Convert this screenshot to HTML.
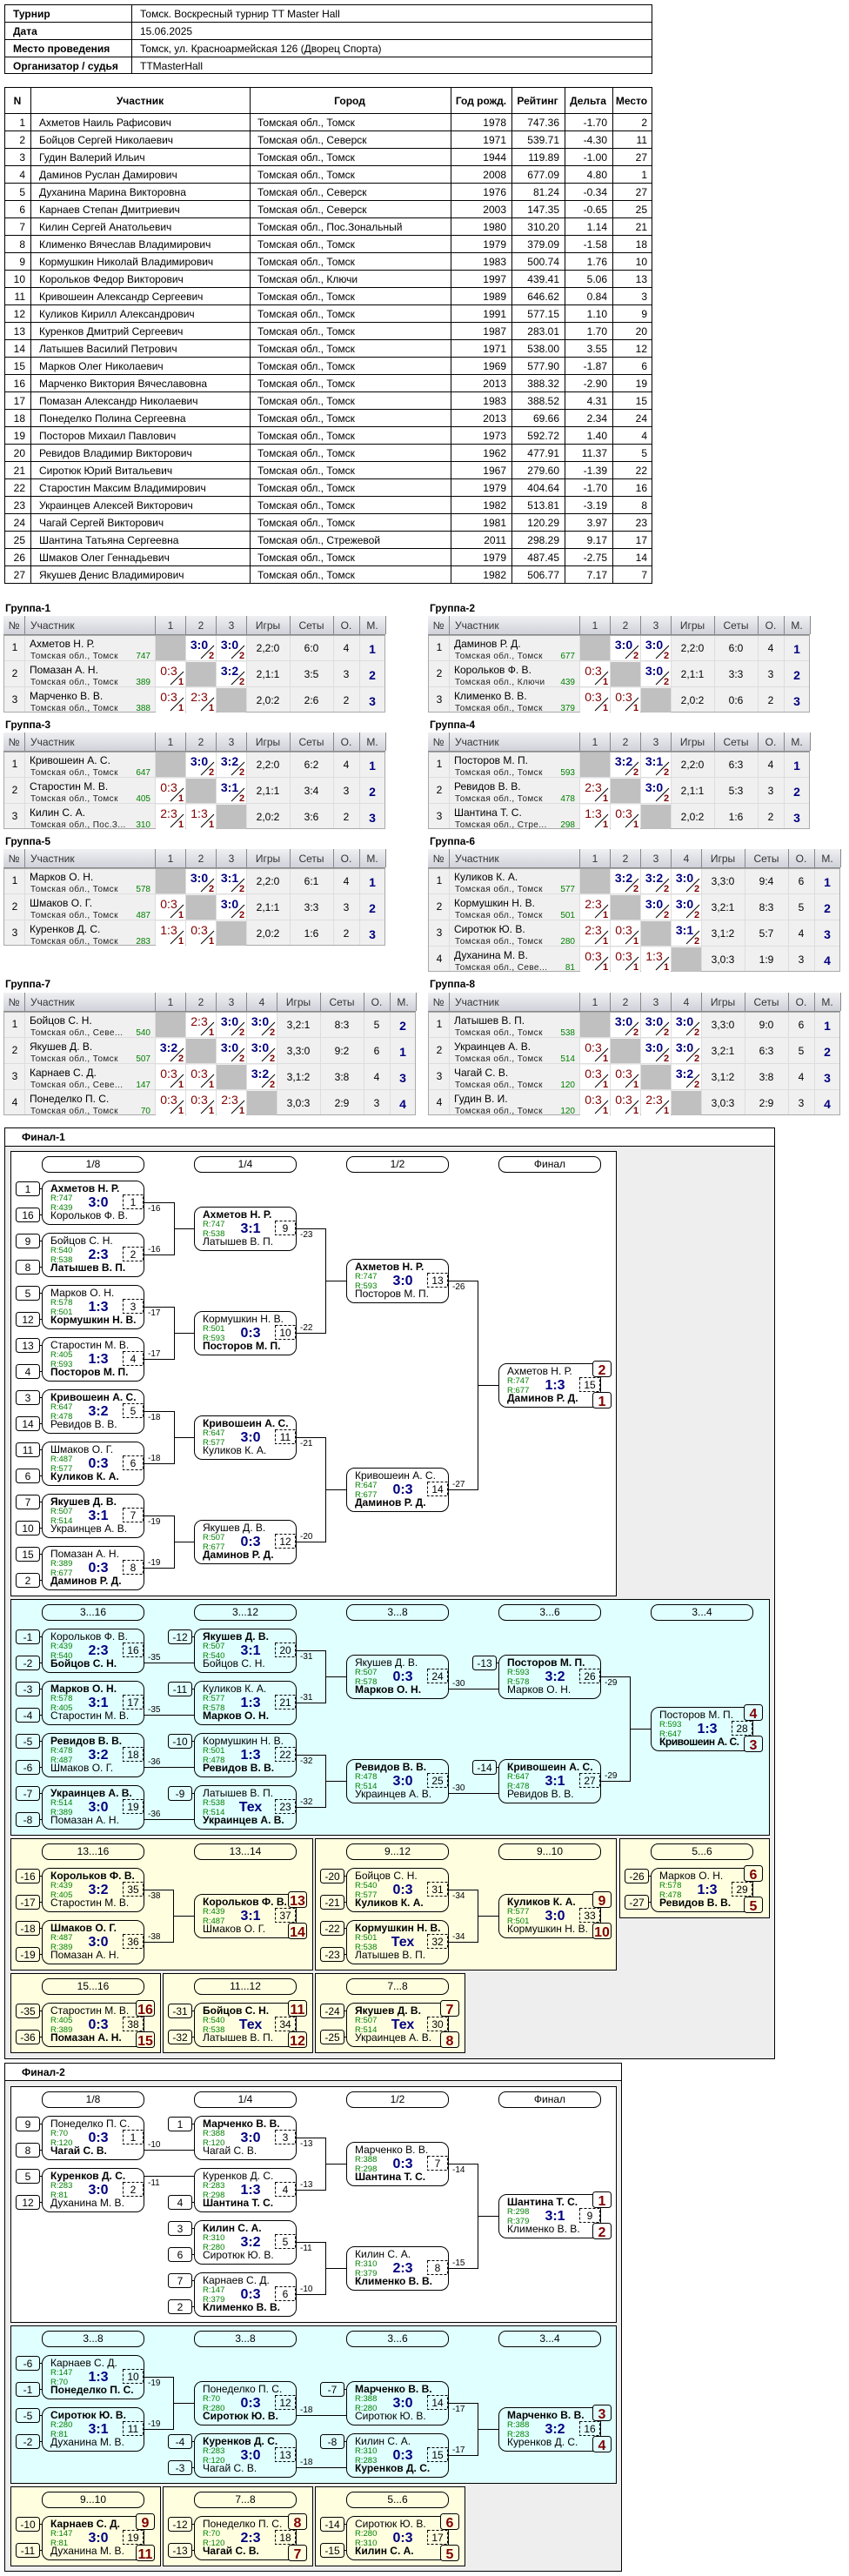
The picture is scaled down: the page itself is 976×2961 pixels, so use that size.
<!DOCTYPE html>
<html lang="ru"><head><meta charset="utf-8"><title>Турнир</title>
<style>
html,body{margin:0;padding:0;background:#fff}
svg{display:block}
text{font-family:"Liberation Sans",sans-serif;font-size:12px;fill:#000}
.t{font-weight:bold}.b{font-weight:bold}
.e{text-anchor:end}.n{text-anchor:middle}
.tb{text-anchor:middle;font-weight:bold}
.r{font-size:9.5px;fill:#008000}
.s{font-size:16px;font-weight:bold;fill:#000080;text-anchor:middle}
.l{font-size:10px}
.m{fill:none;stroke:#000}
.d{fill:none;stroke:#000;stroke-dasharray:3 2}
.w{fill:none;stroke:#000}
.k{stroke:#000}
.q{font-size:16px;font-weight:bold;fill:#800000;text-anchor:middle}
.f{font-size:10px;letter-spacing:.4px;fill:#222}
.g{font-size:10px;fill:#008000;text-anchor:end}
.c{fill:#fff}.x{fill:#c0c0c0}
.wn{font-size:14px;font-weight:bold;fill:#000080;text-anchor:middle}
.ls{font-size:14px;fill:#800000;text-anchor:middle}
.z{stroke:#000;fill:none}
.v{font-size:11px;font-weight:bold;fill:#800000;text-anchor:middle}
.pl{font-size:14px;font-weight:bold;fill:#000080;text-anchor:middle}
.gh{fill:#333}.ghc{fill:#333;text-anchor:middle}
.sep{stroke:#888;fill:none}.lig{stroke:#ddd;fill:none}
.bd{fill:#f0f0f0;stroke:#aaa}
</style></head><body>
<svg xmlns="http://www.w3.org/2000/svg" width="976" height="2961" viewBox="0 0 976 2961">
<defs><linearGradient id="hg" x1="0" y1="0" x2="0" y2="1"><stop offset="0" stop-color="#f0f0f3"/><stop offset="1" stop-color="#d0d2da"/></linearGradient></defs>

<!-- info table -->
<path class="w" d="M5.5 5.5H749.5V84.5H5.5ZM5.5 25.5H749.5M5.5 45.5H749.5M5.5 65.5H749.5M151.5 5.5V84.5"/>
<text class="b" x="15" y="20">Турнир</text><text x="161" y="20">Томск. Воскресный турнир TT Master Hall</text>
<text class="b" x="15" y="40">Дата</text><text x="161" y="40">15.06.2025</text>
<text class="b" x="15" y="60">Место проведения</text><text x="161" y="60">Томск, ул. Красноармейская 126 (Дворец Спорта)</text>
<text class="b" x="15" y="80">Организатор / судья</text><text x="161" y="80">TTMasterHall</text>

<!-- main table -->
<path class="w" d="M5.5 100.5H749.5V670.5H5.5ZM5.5 130.5H749.5M5.5 150.5H749.5M5.5 170.5H749.5M5.5 190.5H749.5M5.5 210.5H749.5M5.5 230.5H749.5M5.5 250.5H749.5M5.5 270.5H749.5M5.5 290.5H749.5M5.5 310.5H749.5M5.5 330.5H749.5M5.5 350.5H749.5M5.5 370.5H749.5M5.5 390.5H749.5M5.5 410.5H749.5M5.5 430.5H749.5M5.5 450.5H749.5M5.5 470.5H749.5M5.5 490.5H749.5M5.5 510.5H749.5M5.5 530.5H749.5M5.5 550.5H749.5M5.5 570.5H749.5M5.5 590.5H749.5M5.5 610.5H749.5M5.5 630.5H749.5M5.5 650.5H749.5M35.5 100.5V670.5M287.5 100.5V670.5M518.5 100.5V670.5M588.5 100.5V670.5M649.5 100.5V670.5M704.5 100.5V670.5"/>
<text class="tb" x="20" y="120">N</text><text class="tb" x="161" y="120">Участник</text><text class="tb" x="402" y="120">Город</text><text class="tb" x="553" y="120">Год рожд.</text><text class="tb" x="618" y="120">Рейтинг</text><text class="tb" x="676" y="120">Дельта</text><text class="tb" x="726" y="120">Место</text>
<g transform="translate(0,130)"><text class="e" x="29" y="15">1</text><text x="45" y="15">Ахметов Наиль Рафисович</text><text x="296" y="15">Томская обл., Томск</text><text class="e" x="582" y="15">1978</text><text class="e" x="643" y="15">747.36</text><text class="e" x="698" y="15">-1.70</text><text class="e" x="744" y="15">2</text></g>
<g transform="translate(0,150)"><text class="e" x="29" y="15">2</text><text x="45" y="15">Бойцов Сергей Николаевич</text><text x="296" y="15">Томская обл., Северск</text><text class="e" x="582" y="15">1971</text><text class="e" x="643" y="15">539.71</text><text class="e" x="698" y="15">-4.30</text><text class="e" x="744" y="15">11</text></g>
<g transform="translate(0,170)"><text class="e" x="29" y="15">3</text><text x="45" y="15">Гудин Валерий Ильич</text><text x="296" y="15">Томская обл., Томск</text><text class="e" x="582" y="15">1944</text><text class="e" x="643" y="15">119.89</text><text class="e" x="698" y="15">-1.00</text><text class="e" x="744" y="15">27</text></g>
<g transform="translate(0,190)"><text class="e" x="29" y="15">4</text><text x="45" y="15">Даминов Руслан Дамирович</text><text x="296" y="15">Томская обл., Томск</text><text class="e" x="582" y="15">2008</text><text class="e" x="643" y="15">677.09</text><text class="e" x="698" y="15">4.80</text><text class="e" x="744" y="15">1</text></g>
<g transform="translate(0,210)"><text class="e" x="29" y="15">5</text><text x="45" y="15">Духанина Марина Викторовна</text><text x="296" y="15">Томская обл., Северск</text><text class="e" x="582" y="15">1976</text><text class="e" x="643" y="15">81.24</text><text class="e" x="698" y="15">-0.34</text><text class="e" x="744" y="15">27</text></g>
<g transform="translate(0,230)"><text class="e" x="29" y="15">6</text><text x="45" y="15">Карнаев Степан Дмитриевич</text><text x="296" y="15">Томская обл., Северск</text><text class="e" x="582" y="15">2003</text><text class="e" x="643" y="15">147.35</text><text class="e" x="698" y="15">-0.65</text><text class="e" x="744" y="15">25</text></g>
<g transform="translate(0,250)"><text class="e" x="29" y="15">7</text><text x="45" y="15">Килин Сергей Анатольевич</text><text x="296" y="15">Томская обл., Пос.Зональный</text><text class="e" x="582" y="15">1980</text><text class="e" x="643" y="15">310.20</text><text class="e" x="698" y="15">1.14</text><text class="e" x="744" y="15">21</text></g>
<g transform="translate(0,270)"><text class="e" x="29" y="15">8</text><text x="45" y="15">Клименко Вячеслав Владимирович</text><text x="296" y="15">Томская обл., Томск</text><text class="e" x="582" y="15">1979</text><text class="e" x="643" y="15">379.09</text><text class="e" x="698" y="15">-1.58</text><text class="e" x="744" y="15">18</text></g>
<g transform="translate(0,290)"><text class="e" x="29" y="15">9</text><text x="45" y="15">Кормушкин Николай Владимирович</text><text x="296" y="15">Томская обл., Томск</text><text class="e" x="582" y="15">1983</text><text class="e" x="643" y="15">500.74</text><text class="e" x="698" y="15">1.76</text><text class="e" x="744" y="15">10</text></g>
<g transform="translate(0,310)"><text class="e" x="29" y="15">10</text><text x="45" y="15">Корольков Федор Викторович</text><text x="296" y="15">Томская обл., Ключи</text><text class="e" x="582" y="15">1997</text><text class="e" x="643" y="15">439.41</text><text class="e" x="698" y="15">5.06</text><text class="e" x="744" y="15">13</text></g>
<g transform="translate(0,330)"><text class="e" x="29" y="15">11</text><text x="45" y="15">Кривошеин Александр Сергеевич</text><text x="296" y="15">Томская обл., Томск</text><text class="e" x="582" y="15">1989</text><text class="e" x="643" y="15">646.62</text><text class="e" x="698" y="15">0.84</text><text class="e" x="744" y="15">3</text></g>
<g transform="translate(0,350)"><text class="e" x="29" y="15">12</text><text x="45" y="15">Куликов Кирилл Александрович</text><text x="296" y="15">Томская обл., Томск</text><text class="e" x="582" y="15">1991</text><text class="e" x="643" y="15">577.15</text><text class="e" x="698" y="15">1.10</text><text class="e" x="744" y="15">9</text></g>
<g transform="translate(0,370)"><text class="e" x="29" y="15">13</text><text x="45" y="15">Куренков Дмитрий Сергеевич</text><text x="296" y="15">Томская обл., Томск</text><text class="e" x="582" y="15">1987</text><text class="e" x="643" y="15">283.01</text><text class="e" x="698" y="15">1.70</text><text class="e" x="744" y="15">20</text></g>
<g transform="translate(0,390)"><text class="e" x="29" y="15">14</text><text x="45" y="15">Латышев Василий Петрович</text><text x="296" y="15">Томская обл., Томск</text><text class="e" x="582" y="15">1971</text><text class="e" x="643" y="15">538.00</text><text class="e" x="698" y="15">3.55</text><text class="e" x="744" y="15">12</text></g>
<g transform="translate(0,410)"><text class="e" x="29" y="15">15</text><text x="45" y="15">Марков Олег Николаевич</text><text x="296" y="15">Томская обл., Томск</text><text class="e" x="582" y="15">1969</text><text class="e" x="643" y="15">577.90</text><text class="e" x="698" y="15">-1.87</text><text class="e" x="744" y="15">6</text></g>
<g transform="translate(0,430)"><text class="e" x="29" y="15">16</text><text x="45" y="15">Марченко Виктория Вячеславовна</text><text x="296" y="15">Томская обл., Томск</text><text class="e" x="582" y="15">2013</text><text class="e" x="643" y="15">388.32</text><text class="e" x="698" y="15">-2.90</text><text class="e" x="744" y="15">19</text></g>
<g transform="translate(0,450)"><text class="e" x="29" y="15">17</text><text x="45" y="15">Помазан Александр Николаевич</text><text x="296" y="15">Томская обл., Томск</text><text class="e" x="582" y="15">1983</text><text class="e" x="643" y="15">388.52</text><text class="e" x="698" y="15">4.31</text><text class="e" x="744" y="15">15</text></g>
<g transform="translate(0,470)"><text class="e" x="29" y="15">18</text><text x="45" y="15">Понеделко Полина Сергеевна</text><text x="296" y="15">Томская обл., Томск</text><text class="e" x="582" y="15">2013</text><text class="e" x="643" y="15">69.66</text><text class="e" x="698" y="15">2.34</text><text class="e" x="744" y="15">24</text></g>
<g transform="translate(0,490)"><text class="e" x="29" y="15">19</text><text x="45" y="15">Посторов Михаил Павлович</text><text x="296" y="15">Томская обл., Томск</text><text class="e" x="582" y="15">1973</text><text class="e" x="643" y="15">592.72</text><text class="e" x="698" y="15">1.40</text><text class="e" x="744" y="15">4</text></g>
<g transform="translate(0,510)"><text class="e" x="29" y="15">20</text><text x="45" y="15">Ревидов Владимир Викторович</text><text x="296" y="15">Томская обл., Томск</text><text class="e" x="582" y="15">1962</text><text class="e" x="643" y="15">477.91</text><text class="e" x="698" y="15">11.37</text><text class="e" x="744" y="15">5</text></g>
<g transform="translate(0,530)"><text class="e" x="29" y="15">21</text><text x="45" y="15">Сиротюк Юрий Витальевич</text><text x="296" y="15">Томская обл., Томск</text><text class="e" x="582" y="15">1967</text><text class="e" x="643" y="15">279.60</text><text class="e" x="698" y="15">-1.39</text><text class="e" x="744" y="15">22</text></g>
<g transform="translate(0,550)"><text class="e" x="29" y="15">22</text><text x="45" y="15">Старостин Максим Владимирович</text><text x="296" y="15">Томская обл., Томск</text><text class="e" x="582" y="15">1979</text><text class="e" x="643" y="15">404.64</text><text class="e" x="698" y="15">-1.70</text><text class="e" x="744" y="15">16</text></g>
<g transform="translate(0,570)"><text class="e" x="29" y="15">23</text><text x="45" y="15">Украинцев Алексей Викторович</text><text x="296" y="15">Томская обл., Томск</text><text class="e" x="582" y="15">1982</text><text class="e" x="643" y="15">513.81</text><text class="e" x="698" y="15">-3.19</text><text class="e" x="744" y="15">8</text></g>
<g transform="translate(0,590)"><text class="e" x="29" y="15">24</text><text x="45" y="15">Чагай Сергей Викторович</text><text x="296" y="15">Томская обл., Томск</text><text class="e" x="582" y="15">1981</text><text class="e" x="643" y="15">120.29</text><text class="e" x="698" y="15">3.97</text><text class="e" x="744" y="15">23</text></g>
<g transform="translate(0,610)"><text class="e" x="29" y="15">25</text><text x="45" y="15">Шантина Татьяна Сергеевна</text><text x="296" y="15">Томская обл., Стрежевой</text><text class="e" x="582" y="15">2011</text><text class="e" x="643" y="15">298.29</text><text class="e" x="698" y="15">9.17</text><text class="e" x="744" y="15">17</text></g>
<g transform="translate(0,630)"><text class="e" x="29" y="15">26</text><text x="45" y="15">Шмаков Олег Геннадьевич</text><text x="296" y="15">Томская обл., Томск</text><text class="e" x="582" y="15">1979</text><text class="e" x="643" y="15">487.45</text><text class="e" x="698" y="15">-2.75</text><text class="e" x="744" y="15">14</text></g>
<g transform="translate(0,650)"><text class="e" x="29" y="15">27</text><text x="45" y="15">Якушев Денис Владимирович</text><text x="296" y="15">Томская обл., Томск</text><text class="e" x="582" y="15">1982</text><text class="e" x="643" y="15">506.77</text><text class="e" x="698" y="15">7.17</text><text class="e" x="744" y="15">7</text></g>

<!-- group headings -->
<text class="b" x="6" y="703">Группа-1</text><text class="b" x="494" y="703">Группа-2</text>
<text class="b" x="6" y="837">Группа-3</text><text class="b" x="494" y="837">Группа-4</text>
<text class="b" x="6" y="971">Группа-5</text><text class="b" x="494" y="971">Группа-6</text>
<text class="b" x="6" y="1135">Группа-7</text><text class="b" x="494" y="1135">Группа-8</text>

<!-- Group 1 -->
<g transform="translate(4,708)"><rect width="439" height="21" fill="url(#hg)"/><path class="sep" d="M0 21.5H439M24.5 0V21M174.5 0V21M209.5 0V21M244.5 0V21M279.5 0V21M329.5 0V21M379.5 0V21M409.5 0V21M439.5 0V21"/><text class="ghc" x="12" y="15">№</text><text class="gh" x="31" y="15">Участник</text><text class="ghc" x="192" y="15">1</text><text class="ghc" x="227" y="15">2</text><text class="ghc" x="262" y="15">3</text><text class="ghc" x="304" y="15">Игры</text><text class="ghc" x="354" y="15">Сеты</text><text class="ghc" x="394" y="15">О.</text><text class="ghc" x="424" y="15">М.</text>
<rect class="bd" x=".5" y="22.5" width="438" height="88"/><path class="lig" d="M1 51.5H438M1 81.5H438M24.5 23V110M174.5 23V110M209.5 23V110M244.5 23V110M279.5 23V110M329.5 23V110M379.5 23V110M409.5 23V110"/>
<text class="n" x="13" y="40">1</text><text x="30" y="36">Ахметов Н. Р.</text><text class="f" x="31" y="49">Томская обл., Томск</text><text class="g" x="169" y="49">747</text>
<rect class="x" x="175" y="23" width="34" height="28"/>
<g transform="translate(210,22)"><rect class="c" y="1" width="34" height="28"/><text class="wn" x="15" y="16">3:0</text><path class="z" d="M17 27L32 12"/><text class="v" x="29" y="27">2</text></g>
<g transform="translate(245,22)"><rect class="c" y="1" width="34" height="28"/><text class="wn" x="15" y="16">3:0</text><path class="z" d="M17 27L32 12"/><text class="v" x="29" y="27">2</text></g>
<text class="n" x="304" y="41">2,2:0</text><text class="n" x="354" y="41">6:0</text><text class="n" x="394" y="41">4</text><text class="pl" x="424" y="43">1</text>
<text class="n" x="13" y="70">2</text><text x="30" y="66">Помазан А. Н.</text><text class="f" x="31" y="79">Томская обл., Томск</text><text class="g" x="169" y="79">389</text>
<g transform="translate(175,52)"><rect class="c" y="1" width="34" height="28"/><text class="ls" x="15" y="16">0:3</text><path class="z" d="M17 27L32 12"/><text class="v" x="29" y="27">1</text></g>
<rect class="x" x="210" y="53" width="34" height="28"/>
<g transform="translate(245,52)"><rect class="c" y="1" width="34" height="28"/><text class="wn" x="15" y="16">3:2</text><path class="z" d="M17 27L32 12"/><text class="v" x="29" y="27">2</text></g>
<text class="n" x="304" y="71">2,1:1</text><text class="n" x="354" y="71">3:5</text><text class="n" x="394" y="71">3</text><text class="pl" x="424" y="73">2</text>
<text class="n" x="13" y="100">3</text><text x="30" y="96">Марченко В. В.</text><text class="f" x="31" y="109">Томская обл., Томск</text><text class="g" x="169" y="109">388</text>
<g transform="translate(175,82)"><rect class="c" y="1" width="34" height="28"/><text class="ls" x="15" y="16">0:3</text><path class="z" d="M17 27L32 12"/><text class="v" x="29" y="27">1</text></g>
<g transform="translate(210,82)"><rect class="c" y="1" width="34" height="28"/><text class="ls" x="15" y="16">2:3</text><path class="z" d="M17 27L32 12"/><text class="v" x="29" y="27">1</text></g>
<rect class="x" x="245" y="83" width="34" height="28"/>
<text class="n" x="304" y="101">2,0:2</text><text class="n" x="354" y="101">2:6</text><text class="n" x="394" y="101">2</text><text class="pl" x="424" y="103">3</text></g>

<!-- Group 2 -->
<g transform="translate(492,708)"><rect width="439" height="21" fill="url(#hg)"/><path class="sep" d="M0 21.5H439M24.5 0V21M174.5 0V21M209.5 0V21M244.5 0V21M279.5 0V21M329.5 0V21M379.5 0V21M409.5 0V21M439.5 0V21"/><text class="ghc" x="12" y="15">№</text><text class="gh" x="31" y="15">Участник</text><text class="ghc" x="192" y="15">1</text><text class="ghc" x="227" y="15">2</text><text class="ghc" x="262" y="15">3</text><text class="ghc" x="304" y="15">Игры</text><text class="ghc" x="354" y="15">Сеты</text><text class="ghc" x="394" y="15">О.</text><text class="ghc" x="424" y="15">М.</text>
<rect class="bd" x=".5" y="22.5" width="438" height="88"/><path class="lig" d="M1 51.5H438M1 81.5H438M24.5 23V110M174.5 23V110M209.5 23V110M244.5 23V110M279.5 23V110M329.5 23V110M379.5 23V110M409.5 23V110"/>
<text class="n" x="13" y="40">1</text><text x="30" y="36">Даминов Р. Д.</text><text class="f" x="31" y="49">Томская обл., Томск</text><text class="g" x="169" y="49">677</text>
<rect class="x" x="175" y="23" width="34" height="28"/>
<g transform="translate(210,22)"><rect class="c" y="1" width="34" height="28"/><text class="wn" x="15" y="16">3:0</text><path class="z" d="M17 27L32 12"/><text class="v" x="29" y="27">2</text></g>
<g transform="translate(245,22)"><rect class="c" y="1" width="34" height="28"/><text class="wn" x="15" y="16">3:0</text><path class="z" d="M17 27L32 12"/><text class="v" x="29" y="27">2</text></g>
<text class="n" x="304" y="41">2,2:0</text><text class="n" x="354" y="41">6:0</text><text class="n" x="394" y="41">4</text><text class="pl" x="424" y="43">1</text>
<text class="n" x="13" y="70">2</text><text x="30" y="66">Корольков Ф. В.</text><text class="f" x="31" y="79">Томская обл., Ключи</text><text class="g" x="169" y="79">439</text>
<g transform="translate(175,52)"><rect class="c" y="1" width="34" height="28"/><text class="ls" x="15" y="16">0:3</text><path class="z" d="M17 27L32 12"/><text class="v" x="29" y="27">1</text></g>
<rect class="x" x="210" y="53" width="34" height="28"/>
<g transform="translate(245,52)"><rect class="c" y="1" width="34" height="28"/><text class="wn" x="15" y="16">3:0</text><path class="z" d="M17 27L32 12"/><text class="v" x="29" y="27">2</text></g>
<text class="n" x="304" y="71">2,1:1</text><text class="n" x="354" y="71">3:3</text><text class="n" x="394" y="71">3</text><text class="pl" x="424" y="73">2</text>
<text class="n" x="13" y="100">3</text><text x="30" y="96">Клименко В. В.</text><text class="f" x="31" y="109">Томская обл., Томск</text><text class="g" x="169" y="109">379</text>
<g transform="translate(175,82)"><rect class="c" y="1" width="34" height="28"/><text class="ls" x="15" y="16">0:3</text><path class="z" d="M17 27L32 12"/><text class="v" x="29" y="27">1</text></g>
<g transform="translate(210,82)"><rect class="c" y="1" width="34" height="28"/><text class="ls" x="15" y="16">0:3</text><path class="z" d="M17 27L32 12"/><text class="v" x="29" y="27">1</text></g>
<rect class="x" x="245" y="83" width="34" height="28"/>
<text class="n" x="304" y="101">2,0:2</text><text class="n" x="354" y="101">0:6</text><text class="n" x="394" y="101">2</text><text class="pl" x="424" y="103">3</text></g>

<!-- Group 3 -->
<g transform="translate(4,842)"><rect width="439" height="21" fill="url(#hg)"/><path class="sep" d="M0 21.5H439M24.5 0V21M174.5 0V21M209.5 0V21M244.5 0V21M279.5 0V21M329.5 0V21M379.5 0V21M409.5 0V21M439.5 0V21"/><text class="ghc" x="12" y="15">№</text><text class="gh" x="31" y="15">Участник</text><text class="ghc" x="192" y="15">1</text><text class="ghc" x="227" y="15">2</text><text class="ghc" x="262" y="15">3</text><text class="ghc" x="304" y="15">Игры</text><text class="ghc" x="354" y="15">Сеты</text><text class="ghc" x="394" y="15">О.</text><text class="ghc" x="424" y="15">М.</text>
<rect class="bd" x=".5" y="22.5" width="438" height="88"/><path class="lig" d="M1 51.5H438M1 81.5H438M24.5 23V110M174.5 23V110M209.5 23V110M244.5 23V110M279.5 23V110M329.5 23V110M379.5 23V110M409.5 23V110"/>
<text class="n" x="13" y="40">1</text><text x="30" y="36">Кривошеин А. С.</text><text class="f" x="31" y="49">Томская обл., Томск</text><text class="g" x="169" y="49">647</text>
<rect class="x" x="175" y="23" width="34" height="28"/>
<g transform="translate(210,22)"><rect class="c" y="1" width="34" height="28"/><text class="wn" x="15" y="16">3:0</text><path class="z" d="M17 27L32 12"/><text class="v" x="29" y="27">2</text></g>
<g transform="translate(245,22)"><rect class="c" y="1" width="34" height="28"/><text class="wn" x="15" y="16">3:2</text><path class="z" d="M17 27L32 12"/><text class="v" x="29" y="27">2</text></g>
<text class="n" x="304" y="41">2,2:0</text><text class="n" x="354" y="41">6:2</text><text class="n" x="394" y="41">4</text><text class="pl" x="424" y="43">1</text>
<text class="n" x="13" y="70">2</text><text x="30" y="66">Старостин М. В.</text><text class="f" x="31" y="79">Томская обл., Томск</text><text class="g" x="169" y="79">405</text>
<g transform="translate(175,52)"><rect class="c" y="1" width="34" height="28"/><text class="ls" x="15" y="16">0:3</text><path class="z" d="M17 27L32 12"/><text class="v" x="29" y="27">1</text></g>
<rect class="x" x="210" y="53" width="34" height="28"/>
<g transform="translate(245,52)"><rect class="c" y="1" width="34" height="28"/><text class="wn" x="15" y="16">3:1</text><path class="z" d="M17 27L32 12"/><text class="v" x="29" y="27">2</text></g>
<text class="n" x="304" y="71">2,1:1</text><text class="n" x="354" y="71">3:4</text><text class="n" x="394" y="71">3</text><text class="pl" x="424" y="73">2</text>
<text class="n" x="13" y="100">3</text><text x="30" y="96">Килин С. А.</text><text class="f" x="31" y="109">Томская обл., Пос.З...</text><text class="g" x="169" y="109">310</text>
<g transform="translate(175,82)"><rect class="c" y="1" width="34" height="28"/><text class="ls" x="15" y="16">2:3</text><path class="z" d="M17 27L32 12"/><text class="v" x="29" y="27">1</text></g>
<g transform="translate(210,82)"><rect class="c" y="1" width="34" height="28"/><text class="ls" x="15" y="16">1:3</text><path class="z" d="M17 27L32 12"/><text class="v" x="29" y="27">1</text></g>
<rect class="x" x="245" y="83" width="34" height="28"/>
<text class="n" x="304" y="101">2,0:2</text><text class="n" x="354" y="101">3:6</text><text class="n" x="394" y="101">2</text><text class="pl" x="424" y="103">3</text></g>

<!-- Group 4 -->
<g transform="translate(492,842)"><rect width="439" height="21" fill="url(#hg)"/><path class="sep" d="M0 21.5H439M24.5 0V21M174.5 0V21M209.5 0V21M244.5 0V21M279.5 0V21M329.5 0V21M379.5 0V21M409.5 0V21M439.5 0V21"/><text class="ghc" x="12" y="15">№</text><text class="gh" x="31" y="15">Участник</text><text class="ghc" x="192" y="15">1</text><text class="ghc" x="227" y="15">2</text><text class="ghc" x="262" y="15">3</text><text class="ghc" x="304" y="15">Игры</text><text class="ghc" x="354" y="15">Сеты</text><text class="ghc" x="394" y="15">О.</text><text class="ghc" x="424" y="15">М.</text>
<rect class="bd" x=".5" y="22.5" width="438" height="88"/><path class="lig" d="M1 51.5H438M1 81.5H438M24.5 23V110M174.5 23V110M209.5 23V110M244.5 23V110M279.5 23V110M329.5 23V110M379.5 23V110M409.5 23V110"/>
<text class="n" x="13" y="40">1</text><text x="30" y="36">Посторов М. П.</text><text class="f" x="31" y="49">Томская обл., Томск</text><text class="g" x="169" y="49">593</text>
<rect class="x" x="175" y="23" width="34" height="28"/>
<g transform="translate(210,22)"><rect class="c" y="1" width="34" height="28"/><text class="wn" x="15" y="16">3:2</text><path class="z" d="M17 27L32 12"/><text class="v" x="29" y="27">2</text></g>
<g transform="translate(245,22)"><rect class="c" y="1" width="34" height="28"/><text class="wn" x="15" y="16">3:1</text><path class="z" d="M17 27L32 12"/><text class="v" x="29" y="27">2</text></g>
<text class="n" x="304" y="41">2,2:0</text><text class="n" x="354" y="41">6:3</text><text class="n" x="394" y="41">4</text><text class="pl" x="424" y="43">1</text>
<text class="n" x="13" y="70">2</text><text x="30" y="66">Ревидов В. В.</text><text class="f" x="31" y="79">Томская обл., Томск</text><text class="g" x="169" y="79">478</text>
<g transform="translate(175,52)"><rect class="c" y="1" width="34" height="28"/><text class="ls" x="15" y="16">2:3</text><path class="z" d="M17 27L32 12"/><text class="v" x="29" y="27">1</text></g>
<rect class="x" x="210" y="53" width="34" height="28"/>
<g transform="translate(245,52)"><rect class="c" y="1" width="34" height="28"/><text class="wn" x="15" y="16">3:0</text><path class="z" d="M17 27L32 12"/><text class="v" x="29" y="27">2</text></g>
<text class="n" x="304" y="71">2,1:1</text><text class="n" x="354" y="71">5:3</text><text class="n" x="394" y="71">3</text><text class="pl" x="424" y="73">2</text>
<text class="n" x="13" y="100">3</text><text x="30" y="96">Шантина Т. С.</text><text class="f" x="31" y="109">Томская обл., Стре...</text><text class="g" x="169" y="109">298</text>
<g transform="translate(175,82)"><rect class="c" y="1" width="34" height="28"/><text class="ls" x="15" y="16">1:3</text><path class="z" d="M17 27L32 12"/><text class="v" x="29" y="27">1</text></g>
<g transform="translate(210,82)"><rect class="c" y="1" width="34" height="28"/><text class="ls" x="15" y="16">0:3</text><path class="z" d="M17 27L32 12"/><text class="v" x="29" y="27">1</text></g>
<rect class="x" x="245" y="83" width="34" height="28"/>
<text class="n" x="304" y="101">2,0:2</text><text class="n" x="354" y="101">1:6</text><text class="n" x="394" y="101">2</text><text class="pl" x="424" y="103">3</text></g>

<!-- Group 5 -->
<g transform="translate(4,976)"><rect width="439" height="21" fill="url(#hg)"/><path class="sep" d="M0 21.5H439M24.5 0V21M174.5 0V21M209.5 0V21M244.5 0V21M279.5 0V21M329.5 0V21M379.5 0V21M409.5 0V21M439.5 0V21"/><text class="ghc" x="12" y="15">№</text><text class="gh" x="31" y="15">Участник</text><text class="ghc" x="192" y="15">1</text><text class="ghc" x="227" y="15">2</text><text class="ghc" x="262" y="15">3</text><text class="ghc" x="304" y="15">Игры</text><text class="ghc" x="354" y="15">Сеты</text><text class="ghc" x="394" y="15">О.</text><text class="ghc" x="424" y="15">М.</text>
<rect class="bd" x=".5" y="22.5" width="438" height="88"/><path class="lig" d="M1 51.5H438M1 81.5H438M24.5 23V110M174.5 23V110M209.5 23V110M244.5 23V110M279.5 23V110M329.5 23V110M379.5 23V110M409.5 23V110"/>
<text class="n" x="13" y="40">1</text><text x="30" y="36">Марков О. Н.</text><text class="f" x="31" y="49">Томская обл., Томск</text><text class="g" x="169" y="49">578</text>
<rect class="x" x="175" y="23" width="34" height="28"/>
<g transform="translate(210,22)"><rect class="c" y="1" width="34" height="28"/><text class="wn" x="15" y="16">3:0</text><path class="z" d="M17 27L32 12"/><text class="v" x="29" y="27">2</text></g>
<g transform="translate(245,22)"><rect class="c" y="1" width="34" height="28"/><text class="wn" x="15" y="16">3:1</text><path class="z" d="M17 27L32 12"/><text class="v" x="29" y="27">2</text></g>
<text class="n" x="304" y="41">2,2:0</text><text class="n" x="354" y="41">6:1</text><text class="n" x="394" y="41">4</text><text class="pl" x="424" y="43">1</text>
<text class="n" x="13" y="70">2</text><text x="30" y="66">Шмаков О. Г.</text><text class="f" x="31" y="79">Томская обл., Томск</text><text class="g" x="169" y="79">487</text>
<g transform="translate(175,52)"><rect class="c" y="1" width="34" height="28"/><text class="ls" x="15" y="16">0:3</text><path class="z" d="M17 27L32 12"/><text class="v" x="29" y="27">1</text></g>
<rect class="x" x="210" y="53" width="34" height="28"/>
<g transform="translate(245,52)"><rect class="c" y="1" width="34" height="28"/><text class="wn" x="15" y="16">3:0</text><path class="z" d="M17 27L32 12"/><text class="v" x="29" y="27">2</text></g>
<text class="n" x="304" y="71">2,1:1</text><text class="n" x="354" y="71">3:3</text><text class="n" x="394" y="71">3</text><text class="pl" x="424" y="73">2</text>
<text class="n" x="13" y="100">3</text><text x="30" y="96">Куренков Д. С.</text><text class="f" x="31" y="109">Томская обл., Томск</text><text class="g" x="169" y="109">283</text>
<g transform="translate(175,82)"><rect class="c" y="1" width="34" height="28"/><text class="ls" x="15" y="16">1:3</text><path class="z" d="M17 27L32 12"/><text class="v" x="29" y="27">1</text></g>
<g transform="translate(210,82)"><rect class="c" y="1" width="34" height="28"/><text class="ls" x="15" y="16">0:3</text><path class="z" d="M17 27L32 12"/><text class="v" x="29" y="27">1</text></g>
<rect class="x" x="245" y="83" width="34" height="28"/>
<text class="n" x="304" y="101">2,0:2</text><text class="n" x="354" y="101">1:6</text><text class="n" x="394" y="101">2</text><text class="pl" x="424" y="103">3</text></g>

<!-- Group 6 -->
<g transform="translate(492,976)"><rect width="474" height="21" fill="url(#hg)"/><path class="sep" d="M0 21.5H474M24.5 0V21M174.5 0V21M209.5 0V21M244.5 0V21M279.5 0V21M314.5 0V21M364.5 0V21M414.5 0V21M444.5 0V21M474.5 0V21"/><text class="ghc" x="12" y="15">№</text><text class="gh" x="31" y="15">Участник</text><text class="ghc" x="192" y="15">1</text><text class="ghc" x="227" y="15">2</text><text class="ghc" x="262" y="15">3</text><text class="ghc" x="297" y="15">4</text><text class="ghc" x="339" y="15">Игры</text><text class="ghc" x="389" y="15">Сеты</text><text class="ghc" x="429" y="15">О.</text><text class="ghc" x="459" y="15">М.</text>
<rect class="bd" x=".5" y="22.5" width="473" height="118"/><path class="lig" d="M1 51.5H473M1 81.5H473M1 111.5H473M24.5 23V140M174.5 23V140M209.5 23V140M244.5 23V140M279.5 23V140M314.5 23V140M364.5 23V140M414.5 23V140M444.5 23V140"/>
<text class="n" x="13" y="40">1</text><text x="30" y="36">Куликов К. А.</text><text class="f" x="31" y="49">Томская обл., Томск</text><text class="g" x="169" y="49">577</text>
<rect class="x" x="175" y="23" width="34" height="28"/>
<g transform="translate(210,22)"><rect class="c" y="1" width="34" height="28"/><text class="wn" x="15" y="16">3:2</text><path class="z" d="M17 27L32 12"/><text class="v" x="29" y="27">2</text></g>
<g transform="translate(245,22)"><rect class="c" y="1" width="34" height="28"/><text class="wn" x="15" y="16">3:2</text><path class="z" d="M17 27L32 12"/><text class="v" x="29" y="27">2</text></g>
<g transform="translate(280,22)"><rect class="c" y="1" width="34" height="28"/><text class="wn" x="15" y="16">3:0</text><path class="z" d="M17 27L32 12"/><text class="v" x="29" y="27">2</text></g>
<text class="n" x="339" y="41">3,3:0</text><text class="n" x="389" y="41">9:4</text><text class="n" x="429" y="41">6</text><text class="pl" x="459" y="43">1</text>
<text class="n" x="13" y="70">2</text><text x="30" y="66">Кормушкин Н. В.</text><text class="f" x="31" y="79">Томская обл., Томск</text><text class="g" x="169" y="79">501</text>
<g transform="translate(175,52)"><rect class="c" y="1" width="34" height="28"/><text class="ls" x="15" y="16">2:3</text><path class="z" d="M17 27L32 12"/><text class="v" x="29" y="27">1</text></g>
<rect class="x" x="210" y="53" width="34" height="28"/>
<g transform="translate(245,52)"><rect class="c" y="1" width="34" height="28"/><text class="wn" x="15" y="16">3:0</text><path class="z" d="M17 27L32 12"/><text class="v" x="29" y="27">2</text></g>
<g transform="translate(280,52)"><rect class="c" y="1" width="34" height="28"/><text class="wn" x="15" y="16">3:0</text><path class="z" d="M17 27L32 12"/><text class="v" x="29" y="27">2</text></g>
<text class="n" x="339" y="71">3,2:1</text><text class="n" x="389" y="71">8:3</text><text class="n" x="429" y="71">5</text><text class="pl" x="459" y="73">2</text>
<text class="n" x="13" y="100">3</text><text x="30" y="96">Сиротюк Ю. В.</text><text class="f" x="31" y="109">Томская обл., Томск</text><text class="g" x="169" y="109">280</text>
<g transform="translate(175,82)"><rect class="c" y="1" width="34" height="28"/><text class="ls" x="15" y="16">2:3</text><path class="z" d="M17 27L32 12"/><text class="v" x="29" y="27">1</text></g>
<g transform="translate(210,82)"><rect class="c" y="1" width="34" height="28"/><text class="ls" x="15" y="16">0:3</text><path class="z" d="M17 27L32 12"/><text class="v" x="29" y="27">1</text></g>
<rect class="x" x="245" y="83" width="34" height="28"/>
<g transform="translate(280,82)"><rect class="c" y="1" width="34" height="28"/><text class="wn" x="15" y="16">3:1</text><path class="z" d="M17 27L32 12"/><text class="v" x="29" y="27">2</text></g>
<text class="n" x="339" y="101">3,1:2</text><text class="n" x="389" y="101">5:7</text><text class="n" x="429" y="101">4</text><text class="pl" x="459" y="103">3</text>
<text class="n" x="13" y="130">4</text><text x="30" y="126">Духанина М. В.</text><text class="f" x="31" y="139">Томская обл., Севе...</text><text class="g" x="169" y="139">81</text>
<g transform="translate(175,112)"><rect class="c" y="1" width="34" height="28"/><text class="ls" x="15" y="16">0:3</text><path class="z" d="M17 27L32 12"/><text class="v" x="29" y="27">1</text></g>
<g transform="translate(210,112)"><rect class="c" y="1" width="34" height="28"/><text class="ls" x="15" y="16">0:3</text><path class="z" d="M17 27L32 12"/><text class="v" x="29" y="27">1</text></g>
<g transform="translate(245,112)"><rect class="c" y="1" width="34" height="28"/><text class="ls" x="15" y="16">1:3</text><path class="z" d="M17 27L32 12"/><text class="v" x="29" y="27">1</text></g>
<rect class="x" x="280" y="113" width="34" height="28"/>
<text class="n" x="339" y="131">3,0:3</text><text class="n" x="389" y="131">1:9</text><text class="n" x="429" y="131">3</text><text class="pl" x="459" y="133">4</text></g>

<!-- Group 7 -->
<g transform="translate(4,1141)"><rect width="474" height="21" fill="url(#hg)"/><path class="sep" d="M0 21.5H474M24.5 0V21M174.5 0V21M209.5 0V21M244.5 0V21M279.5 0V21M314.5 0V21M364.5 0V21M414.5 0V21M444.5 0V21M474.5 0V21"/><text class="ghc" x="12" y="15">№</text><text class="gh" x="31" y="15">Участник</text><text class="ghc" x="192" y="15">1</text><text class="ghc" x="227" y="15">2</text><text class="ghc" x="262" y="15">3</text><text class="ghc" x="297" y="15">4</text><text class="ghc" x="339" y="15">Игры</text><text class="ghc" x="389" y="15">Сеты</text><text class="ghc" x="429" y="15">О.</text><text class="ghc" x="459" y="15">М.</text>
<rect class="bd" x=".5" y="22.5" width="473" height="118"/><path class="lig" d="M1 51.5H473M1 81.5H473M1 111.5H473M24.5 23V140M174.5 23V140M209.5 23V140M244.5 23V140M279.5 23V140M314.5 23V140M364.5 23V140M414.5 23V140M444.5 23V140"/>
<text class="n" x="13" y="40">1</text><text x="30" y="36">Бойцов С. Н.</text><text class="f" x="31" y="49">Томская обл., Севе...</text><text class="g" x="169" y="49">540</text>
<rect class="x" x="175" y="23" width="34" height="28"/>
<g transform="translate(210,22)"><rect class="c" y="1" width="34" height="28"/><text class="ls" x="15" y="16">2:3</text><path class="z" d="M17 27L32 12"/><text class="v" x="29" y="27">1</text></g>
<g transform="translate(245,22)"><rect class="c" y="1" width="34" height="28"/><text class="wn" x="15" y="16">3:0</text><path class="z" d="M17 27L32 12"/><text class="v" x="29" y="27">2</text></g>
<g transform="translate(280,22)"><rect class="c" y="1" width="34" height="28"/><text class="wn" x="15" y="16">3:0</text><path class="z" d="M17 27L32 12"/><text class="v" x="29" y="27">2</text></g>
<text class="n" x="339" y="41">3,2:1</text><text class="n" x="389" y="41">8:3</text><text class="n" x="429" y="41">5</text><text class="pl" x="459" y="43">2</text>
<text class="n" x="13" y="70">2</text><text x="30" y="66">Якушев Д. В.</text><text class="f" x="31" y="79">Томская обл., Томск</text><text class="g" x="169" y="79">507</text>
<g transform="translate(175,52)"><rect class="c" y="1" width="34" height="28"/><text class="wn" x="15" y="16">3:2</text><path class="z" d="M17 27L32 12"/><text class="v" x="29" y="27">2</text></g>
<rect class="x" x="210" y="53" width="34" height="28"/>
<g transform="translate(245,52)"><rect class="c" y="1" width="34" height="28"/><text class="wn" x="15" y="16">3:0</text><path class="z" d="M17 27L32 12"/><text class="v" x="29" y="27">2</text></g>
<g transform="translate(280,52)"><rect class="c" y="1" width="34" height="28"/><text class="wn" x="15" y="16">3:0</text><path class="z" d="M17 27L32 12"/><text class="v" x="29" y="27">2</text></g>
<text class="n" x="339" y="71">3,3:0</text><text class="n" x="389" y="71">9:2</text><text class="n" x="429" y="71">6</text><text class="pl" x="459" y="73">1</text>
<text class="n" x="13" y="100">3</text><text x="30" y="96">Карнаев С. Д.</text><text class="f" x="31" y="109">Томская обл., Севе...</text><text class="g" x="169" y="109">147</text>
<g transform="translate(175,82)"><rect class="c" y="1" width="34" height="28"/><text class="ls" x="15" y="16">0:3</text><path class="z" d="M17 27L32 12"/><text class="v" x="29" y="27">1</text></g>
<g transform="translate(210,82)"><rect class="c" y="1" width="34" height="28"/><text class="ls" x="15" y="16">0:3</text><path class="z" d="M17 27L32 12"/><text class="v" x="29" y="27">1</text></g>
<rect class="x" x="245" y="83" width="34" height="28"/>
<g transform="translate(280,82)"><rect class="c" y="1" width="34" height="28"/><text class="wn" x="15" y="16">3:2</text><path class="z" d="M17 27L32 12"/><text class="v" x="29" y="27">2</text></g>
<text class="n" x="339" y="101">3,1:2</text><text class="n" x="389" y="101">3:8</text><text class="n" x="429" y="101">4</text><text class="pl" x="459" y="103">3</text>
<text class="n" x="13" y="130">4</text><text x="30" y="126">Понеделко П. С.</text><text class="f" x="31" y="139">Томская обл., Томск</text><text class="g" x="169" y="139">70</text>
<g transform="translate(175,112)"><rect class="c" y="1" width="34" height="28"/><text class="ls" x="15" y="16">0:3</text><path class="z" d="M17 27L32 12"/><text class="v" x="29" y="27">1</text></g>
<g transform="translate(210,112)"><rect class="c" y="1" width="34" height="28"/><text class="ls" x="15" y="16">0:3</text><path class="z" d="M17 27L32 12"/><text class="v" x="29" y="27">1</text></g>
<g transform="translate(245,112)"><rect class="c" y="1" width="34" height="28"/><text class="ls" x="15" y="16">2:3</text><path class="z" d="M17 27L32 12"/><text class="v" x="29" y="27">1</text></g>
<rect class="x" x="280" y="113" width="34" height="28"/>
<text class="n" x="339" y="131">3,0:3</text><text class="n" x="389" y="131">2:9</text><text class="n" x="429" y="131">3</text><text class="pl" x="459" y="133">4</text></g>

<!-- Group 8 -->
<g transform="translate(492,1141)"><rect width="474" height="21" fill="url(#hg)"/><path class="sep" d="M0 21.5H474M24.5 0V21M174.5 0V21M209.5 0V21M244.5 0V21M279.5 0V21M314.5 0V21M364.5 0V21M414.5 0V21M444.5 0V21M474.5 0V21"/><text class="ghc" x="12" y="15">№</text><text class="gh" x="31" y="15">Участник</text><text class="ghc" x="192" y="15">1</text><text class="ghc" x="227" y="15">2</text><text class="ghc" x="262" y="15">3</text><text class="ghc" x="297" y="15">4</text><text class="ghc" x="339" y="15">Игры</text><text class="ghc" x="389" y="15">Сеты</text><text class="ghc" x="429" y="15">О.</text><text class="ghc" x="459" y="15">М.</text>
<rect class="bd" x=".5" y="22.5" width="473" height="118"/><path class="lig" d="M1 51.5H473M1 81.5H473M1 111.5H473M24.5 23V140M174.5 23V140M209.5 23V140M244.5 23V140M279.5 23V140M314.5 23V140M364.5 23V140M414.5 23V140M444.5 23V140"/>
<text class="n" x="13" y="40">1</text><text x="30" y="36">Латышев В. П.</text><text class="f" x="31" y="49">Томская обл., Томск</text><text class="g" x="169" y="49">538</text>
<rect class="x" x="175" y="23" width="34" height="28"/>
<g transform="translate(210,22)"><rect class="c" y="1" width="34" height="28"/><text class="wn" x="15" y="16">3:0</text><path class="z" d="M17 27L32 12"/><text class="v" x="29" y="27">2</text></g>
<g transform="translate(245,22)"><rect class="c" y="1" width="34" height="28"/><text class="wn" x="15" y="16">3:0</text><path class="z" d="M17 27L32 12"/><text class="v" x="29" y="27">2</text></g>
<g transform="translate(280,22)"><rect class="c" y="1" width="34" height="28"/><text class="wn" x="15" y="16">3:0</text><path class="z" d="M17 27L32 12"/><text class="v" x="29" y="27">2</text></g>
<text class="n" x="339" y="41">3,3:0</text><text class="n" x="389" y="41">9:0</text><text class="n" x="429" y="41">6</text><text class="pl" x="459" y="43">1</text>
<text class="n" x="13" y="70">2</text><text x="30" y="66">Украинцев А. В.</text><text class="f" x="31" y="79">Томская обл., Томск</text><text class="g" x="169" y="79">514</text>
<g transform="translate(175,52)"><rect class="c" y="1" width="34" height="28"/><text class="ls" x="15" y="16">0:3</text><path class="z" d="M17 27L32 12"/><text class="v" x="29" y="27">1</text></g>
<rect class="x" x="210" y="53" width="34" height="28"/>
<g transform="translate(245,52)"><rect class="c" y="1" width="34" height="28"/><text class="wn" x="15" y="16">3:0</text><path class="z" d="M17 27L32 12"/><text class="v" x="29" y="27">2</text></g>
<g transform="translate(280,52)"><rect class="c" y="1" width="34" height="28"/><text class="wn" x="15" y="16">3:0</text><path class="z" d="M17 27L32 12"/><text class="v" x="29" y="27">2</text></g>
<text class="n" x="339" y="71">3,2:1</text><text class="n" x="389" y="71">6:3</text><text class="n" x="429" y="71">5</text><text class="pl" x="459" y="73">2</text>
<text class="n" x="13" y="100">3</text><text x="30" y="96">Чагай С. В.</text><text class="f" x="31" y="109">Томская обл., Томск</text><text class="g" x="169" y="109">120</text>
<g transform="translate(175,82)"><rect class="c" y="1" width="34" height="28"/><text class="ls" x="15" y="16">0:3</text><path class="z" d="M17 27L32 12"/><text class="v" x="29" y="27">1</text></g>
<g transform="translate(210,82)"><rect class="c" y="1" width="34" height="28"/><text class="ls" x="15" y="16">0:3</text><path class="z" d="M17 27L32 12"/><text class="v" x="29" y="27">1</text></g>
<rect class="x" x="245" y="83" width="34" height="28"/>
<g transform="translate(280,82)"><rect class="c" y="1" width="34" height="28"/><text class="wn" x="15" y="16">3:2</text><path class="z" d="M17 27L32 12"/><text class="v" x="29" y="27">2</text></g>
<text class="n" x="339" y="101">3,1:2</text><text class="n" x="389" y="101">3:8</text><text class="n" x="429" y="101">4</text><text class="pl" x="459" y="103">3</text>
<text class="n" x="13" y="130">4</text><text x="30" y="126">Гудин В. И.</text><text class="f" x="31" y="139">Томская обл., Томск</text><text class="g" x="169" y="139">120</text>
<g transform="translate(175,112)"><rect class="c" y="1" width="34" height="28"/><text class="ls" x="15" y="16">0:3</text><path class="z" d="M17 27L32 12"/><text class="v" x="29" y="27">1</text></g>
<g transform="translate(210,112)"><rect class="c" y="1" width="34" height="28"/><text class="ls" x="15" y="16">0:3</text><path class="z" d="M17 27L32 12"/><text class="v" x="29" y="27">1</text></g>
<g transform="translate(245,112)"><rect class="c" y="1" width="34" height="28"/><text class="ls" x="15" y="16">2:3</text><path class="z" d="M17 27L32 12"/><text class="v" x="29" y="27">1</text></g>
<rect class="x" x="280" y="113" width="34" height="28"/>
<text class="n" x="339" y="131">3,0:3</text><text class="n" x="389" y="131">2:9</text><text class="n" x="429" y="131">3</text><text class="pl" x="459" y="133">4</text></g>

<!-- FINAL 1 frame -->
<rect x="5.5" y="1296.5" width="885" height="1070" fill="#eeeeee" stroke="#000"/>
<rect x="5.5" y="1296.5" width="885" height="21" fill="#fff" stroke="#000"/>
<text class="b" x="25" y="1311">Финал-1</text>
<rect x="12.5" y="1323.5" width="696" height="511" fill="#fff" stroke="#000"/>
<rect x="12.5" y="1838.5" width="872" height="271" fill="#e0ffff" stroke="#000"/>
<rect x="12.5" y="2113.5" width="347" height="151" fill="#ffffe0" stroke="#000"/>
<rect x="362.5" y="2113.5" width="346" height="151" fill="#ffffe0" stroke="#000"/>
<rect x="712.5" y="2113.5" width="172" height="91" fill="#ffffe0" stroke="#000"/>
<rect x="12.5" y="2268.5" width="172" height="91" fill="#ffffe0" stroke="#000"/>
<rect x="187.5" y="2268.5" width="172" height="91" fill="#ffffe0" stroke="#000"/>
<rect x="362.5" y="2268.5" width="172" height="91" fill="#ffffe0" stroke="#000"/>

<!-- FINAL 2 frame -->
<rect x="5.5" y="2371.5" width="709" height="584" fill="#eeeeee" stroke="#000"/>
<rect x="5.5" y="2371.5" width="709" height="20" fill="#fff" stroke="#000"/>
<text class="b" x="25" y="2386">Финал-2</text>
<rect x="12.5" y="2398.5" width="696" height="271" fill="#fff" stroke="#000"/>
<rect x="12.5" y="2673.5" width="696" height="181" fill="#e0ffff" stroke="#000"/>
<rect x="12.5" y="2858.5" width="172" height="91" fill="#ffffe0" stroke="#000"/>
<rect x="187.5" y="2858.5" width="172" height="91" fill="#ffffe0" stroke="#000"/>
<rect x="362.5" y="2858.5" width="172" height="91" fill="#ffffe0" stroke="#000"/>

<!-- pills -->
<g class="pills">
<rect class="m" x="48.5" y="1329.5" width="117" height="18" rx="8"/><text class="n" x="107" y="1342">1/8</text>
<rect class="m" x="223.5" y="1329.5" width="117" height="18" rx="8"/><text class="n" x="282" y="1342">1/4</text>
<rect class="m" x="398.5" y="1329.5" width="117" height="18" rx="8"/><text class="n" x="457" y="1342">1/2</text>
<rect class="m" x="573.5" y="1329.5" width="117" height="18" rx="8"/><text class="n" x="632" y="1342">Финал</text>
<rect class="m" x="48.5" y="1844.5" width="117" height="18" rx="8"/><text class="n" x="107" y="1857">3...16</text>
<rect class="m" x="223.5" y="1844.5" width="117" height="18" rx="8"/><text class="n" x="282" y="1857">3...12</text>
<rect class="m" x="398.5" y="1844.5" width="117" height="18" rx="8"/><text class="n" x="457" y="1857">3...8</text>
<rect class="m" x="573.5" y="1844.5" width="117" height="18" rx="8"/><text class="n" x="632" y="1857">3...6</text>
<rect class="m" x="748.5" y="1844.5" width="117" height="18" rx="8"/><text class="n" x="807" y="1857">3...4</text>
<rect class="m" x="48.5" y="2119.5" width="117" height="18" rx="8"/><text class="n" x="107" y="2132">13...16</text>
<rect class="m" x="223.5" y="2119.5" width="117" height="18" rx="8"/><text class="n" x="282" y="2132">13...14</text>
<rect class="m" x="398.5" y="2119.5" width="117" height="18" rx="8"/><text class="n" x="457" y="2132">9...12</text>
<rect class="m" x="573.5" y="2119.5" width="117" height="18" rx="8"/><text class="n" x="632" y="2132">9...10</text>
<rect class="m" x="748.5" y="2119.5" width="117" height="18" rx="8"/><text class="n" x="807" y="2132">5...6</text>
<rect class="m" x="48.5" y="2274.5" width="117" height="18" rx="8"/><text class="n" x="107" y="2287">15...16</text>
<rect class="m" x="223.5" y="2274.5" width="117" height="18" rx="8"/><text class="n" x="282" y="2287">11...12</text>
<rect class="m" x="398.5" y="2274.5" width="117" height="18" rx="8"/><text class="n" x="457" y="2287">7...8</text>
<rect class="m" x="48.5" y="2404.5" width="117" height="18" rx="8"/><text class="n" x="107" y="2417">1/8</text>
<rect class="m" x="223.5" y="2404.5" width="117" height="18" rx="8"/><text class="n" x="282" y="2417">1/4</text>
<rect class="m" x="398.5" y="2404.5" width="117" height="18" rx="8"/><text class="n" x="457" y="2417">1/2</text>
<rect class="m" x="573.5" y="2404.5" width="117" height="18" rx="8"/><text class="n" x="632" y="2417">Финал</text>
<rect class="m" x="48.5" y="2679.5" width="117" height="18" rx="8"/><text class="n" x="107" y="2692">3...8</text>
<rect class="m" x="223.5" y="2679.5" width="117" height="18" rx="8"/><text class="n" x="282" y="2692">3...8</text>
<rect class="m" x="398.5" y="2679.5" width="117" height="18" rx="8"/><text class="n" x="457" y="2692">3...6</text>
<rect class="m" x="573.5" y="2679.5" width="117" height="18" rx="8"/><text class="n" x="632" y="2692">3...4</text>
<rect class="m" x="48.5" y="2864.5" width="117" height="18" rx="8"/><text class="n" x="107" y="2877">9...10</text>
<rect class="m" x="223.5" y="2864.5" width="117" height="18" rx="8"/><text class="n" x="282" y="2877">7...8</text>
<rect class="m" x="398.5" y="2864.5" width="117" height="18" rx="8"/><text class="n" x="457" y="2877">5...6</text>
</g>

<!-- connectors -->
<path class="w" d="M165 1382.5H200.5V1442.5H165M200.5 1412.5H223M165 1502.5H200.5V1562.5H165M200.5 1532.5H223M165 1622.5H200.5V1682.5H165M200.5 1652.5H223M165 1742.5H200.5V1802.5H165M200.5 1772.5H223M340 1412.5H374.5V1532.5H340M374.5 1472.5H398M340 1652.5H374.5V1772.5H340M374.5 1712.5H398M515 1472.5H549.5V1712.5H515M549.5 1592.5H573
M165 1911.5H223M165 1971.5H223M165 2031.5H223M165 2091.5H223M340 1897.5H374.5V1957.5H340M374.5 1927.5H398M340 2017.5H374.5V2077.5H340M374.5 2047.5H398M515 1941.5H573M515 2061.5H573M690 1927.5H724.5V2047.5H690M724.5 1987.5H748
M165 2172.5H199.5V2232.5H165M199.5 2202.5H223M515 2172.5H549.5V2232.5H515M549.5 2202.5H573
M165 2471.5H223M165 2501.5H223M340 2457.5H374.5V2517.5H340M374.5 2487.5H398M340 2577.5H374.5V2637.5H340M374.5 2607.5H398M515 2487.5H549.5V2607.5H515M549.5 2547.5H573
M165 2732.5H199.5V2792.5H165M199.5 2762.5H223M340 2776.5H398M340 2836.5H398M515 2762.5H549.5V2822.5H515M549.5 2792.5H573"/>
<g class="labels">
<text class="l" x="170" y="1392">-16</text><text class="l" x="170" y="1439">-16</text><text class="l" x="170" y="1512">-17</text><text class="l" x="170" y="1559">-17</text><text class="l" x="170" y="1632">-18</text><text class="l" x="170" y="1679">-18</text><text class="l" x="170" y="1752">-19</text><text class="l" x="170" y="1799">-19</text>
<text class="l" x="345" y="1422">-23</text><text class="l" x="345" y="1529">-22</text><text class="l" x="345" y="1662">-21</text><text class="l" x="345" y="1769">-20</text>
<text class="l" x="520" y="1482">-26</text><text class="l" x="520" y="1709">-27</text>
<text class="l" x="170" y="1908">-35</text><text class="l" x="170" y="1968">-35</text><text class="l" x="170" y="2028">-36</text><text class="l" x="170" y="2088">-36</text>
<text class="l" x="345" y="1907">-31</text><text class="l" x="345" y="1954">-31</text><text class="l" x="345" y="2027">-32</text><text class="l" x="345" y="2074">-32</text>
<text class="l" x="520" y="1938">-30</text><text class="l" x="520" y="2058">-30</text>
<text class="l" x="695" y="1937">-29</text><text class="l" x="695" y="2044">-29</text>
<text class="l" x="170" y="2182">-38</text><text class="l" x="170" y="2229">-38</text><text class="l" x="520" y="2182">-34</text><text class="l" x="520" y="2229">-34</text>
<text class="l" x="170" y="2468">-10</text><text class="l" x="170" y="2512">-11</text>
<text class="l" x="345" y="2467">-13</text><text class="l" x="345" y="2514">-13</text><text class="l" x="345" y="2587">-11</text><text class="l" x="345" y="2634">-10</text>
<text class="l" x="520" y="2497">-14</text><text class="l" x="520" y="2604">-15</text>
<text class="l" x="170" y="2742">-19</text><text class="l" x="170" y="2789">-19</text><text class="l" x="345" y="2773">-18</text><text class="l" x="345" y="2833">-18</text>
<text class="l" x="520" y="2772">-17</text><text class="l" x="520" y="2819">-17</text>
</g>

<!-- Final-1 main bracket -->
<g transform="translate(48,1357)"><rect class="m" x="-29.5" y="1.5" width="27" height="16" rx="3"/><rect class="m" x="-29.5" y="31.5" width="27" height="16" rx="3"/><path class="w" d="M-3 9.5H0M-3 39.5H0"/><text class="n" x="-16" y="14">1</text><text class="n" x="-16" y="44">16</text><rect class="m" x=".5" y=".5" width="117" height="50" rx="9"/><text class="b" x="10" y="13">Ахметов Н. Р.</text><text class="r" x="10" y="23">R:747</text><text class="r" x="10" y="34">R:439</text><text class="s" x="65" y="30">3:0</text><rect class="d" x="93.5" y="16.5" width="23" height="16"/><text class="n" x="105" y="29">1</text><text x="10" y="44">Корольков Ф. В.</text></g>
<g transform="translate(48,1417)"><rect class="m" x="-29.5" y="1.5" width="27" height="16" rx="3"/><rect class="m" x="-29.5" y="31.5" width="27" height="16" rx="3"/><path class="w" d="M-3 9.5H0M-3 39.5H0"/><text class="n" x="-16" y="14">9</text><text class="n" x="-16" y="44">8</text><rect class="m" x=".5" y=".5" width="117" height="50" rx="9"/><text x="10" y="13">Бойцов С. Н.</text><text class="r" x="10" y="23">R:540</text><text class="r" x="10" y="34">R:538</text><text class="s" x="65" y="30">2:3</text><rect class="d" x="93.5" y="16.5" width="23" height="16"/><text class="n" x="105" y="29">2</text><text class="b" x="10" y="44">Латышев В. П.</text></g>
<g transform="translate(48,1477)"><rect class="m" x="-29.5" y="1.5" width="27" height="16" rx="3"/><rect class="m" x="-29.5" y="31.5" width="27" height="16" rx="3"/><path class="w" d="M-3 9.5H0M-3 39.5H0"/><text class="n" x="-16" y="14">5</text><text class="n" x="-16" y="44">12</text><rect class="m" x=".5" y=".5" width="117" height="50" rx="9"/><text x="10" y="13">Марков О. Н.</text><text class="r" x="10" y="23">R:578</text><text class="r" x="10" y="34">R:501</text><text class="s" x="65" y="30">1:3</text><rect class="d" x="93.5" y="16.5" width="23" height="16"/><text class="n" x="105" y="29">3</text><text class="b" x="10" y="44">Кормушкин Н. В.</text></g>
<g transform="translate(48,1537)"><rect class="m" x="-29.5" y="1.5" width="27" height="16" rx="3"/><rect class="m" x="-29.5" y="31.5" width="27" height="16" rx="3"/><path class="w" d="M-3 9.5H0M-3 39.5H0"/><text class="n" x="-16" y="14">13</text><text class="n" x="-16" y="44">4</text><rect class="m" x=".5" y=".5" width="117" height="50" rx="9"/><text x="10" y="13">Старостин М. В.</text><text class="r" x="10" y="23">R:405</text><text class="r" x="10" y="34">R:593</text><text class="s" x="65" y="30">1:3</text><rect class="d" x="93.5" y="16.5" width="23" height="16"/><text class="n" x="105" y="29">4</text><text class="b" x="10" y="44">Посторов М. П.</text></g>
<g transform="translate(48,1597)"><rect class="m" x="-29.5" y="1.5" width="27" height="16" rx="3"/><rect class="m" x="-29.5" y="31.5" width="27" height="16" rx="3"/><path class="w" d="M-3 9.5H0M-3 39.5H0"/><text class="n" x="-16" y="14">3</text><text class="n" x="-16" y="44">14</text><rect class="m" x=".5" y=".5" width="117" height="50" rx="9"/><text class="b" x="10" y="13">Кривошеин А. С.</text><text class="r" x="10" y="23">R:647</text><text class="r" x="10" y="34">R:478</text><text class="s" x="65" y="30">3:2</text><rect class="d" x="93.5" y="16.5" width="23" height="16"/><text class="n" x="105" y="29">5</text><text x="10" y="44">Ревидов В. В.</text></g>
<g transform="translate(48,1657)"><rect class="m" x="-29.5" y="1.5" width="27" height="16" rx="3"/><rect class="m" x="-29.5" y="31.5" width="27" height="16" rx="3"/><path class="w" d="M-3 9.5H0M-3 39.5H0"/><text class="n" x="-16" y="14">11</text><text class="n" x="-16" y="44">6</text><rect class="m" x=".5" y=".5" width="117" height="50" rx="9"/><text x="10" y="13">Шмаков О. Г.</text><text class="r" x="10" y="23">R:487</text><text class="r" x="10" y="34">R:577</text><text class="s" x="65" y="30">0:3</text><rect class="d" x="93.5" y="16.5" width="23" height="16"/><text class="n" x="105" y="29">6</text><text class="b" x="10" y="44">Куликов К. А.</text></g>
<g transform="translate(48,1717)"><rect class="m" x="-29.5" y="1.5" width="27" height="16" rx="3"/><rect class="m" x="-29.5" y="31.5" width="27" height="16" rx="3"/><path class="w" d="M-3 9.5H0M-3 39.5H0"/><text class="n" x="-16" y="14">7</text><text class="n" x="-16" y="44">10</text><rect class="m" x=".5" y=".5" width="117" height="50" rx="9"/><text class="b" x="10" y="13">Якушев Д. В.</text><text class="r" x="10" y="23">R:507</text><text class="r" x="10" y="34">R:514</text><text class="s" x="65" y="30">3:1</text><rect class="d" x="93.5" y="16.5" width="23" height="16"/><text class="n" x="105" y="29">7</text><text x="10" y="44">Украинцев А. В.</text></g>
<g transform="translate(48,1777)"><rect class="m" x="-29.5" y="1.5" width="27" height="16" rx="3"/><rect class="m" x="-29.5" y="31.5" width="27" height="16" rx="3"/><path class="w" d="M-3 9.5H0M-3 39.5H0"/><text class="n" x="-16" y="14">15</text><text class="n" x="-16" y="44">2</text><rect class="m" x=".5" y=".5" width="117" height="50" rx="9"/><text x="10" y="13">Помазан А. Н.</text><text class="r" x="10" y="23">R:389</text><text class="r" x="10" y="34">R:677</text><text class="s" x="65" y="30">0:3</text><rect class="d" x="93.5" y="16.5" width="23" height="16"/><text class="n" x="105" y="29">8</text><text class="b" x="10" y="44">Даминов Р. Д.</text></g>

<g transform="translate(223,1387)"><rect class="m" x=".5" y=".5" width="117" height="50" rx="9"/><text class="b" x="10" y="13">Ахметов Н. Р.</text><text class="r" x="10" y="23">R:747</text><text class="r" x="10" y="34">R:538</text><text class="s" x="65" y="30">3:1</text><rect class="d" x="93.5" y="16.5" width="23" height="16"/><text class="n" x="105" y="29">9</text><text x="10" y="44">Латышев В. П.</text></g>
<g transform="translate(223,1507)"><rect class="m" x=".5" y=".5" width="117" height="50" rx="9"/><text x="10" y="13">Кормушкин Н. В.</text><text class="r" x="10" y="23">R:501</text><text class="r" x="10" y="34">R:593</text><text class="s" x="65" y="30">0:3</text><rect class="d" x="93.5" y="16.5" width="23" height="16"/><text class="n" x="105" y="29">10</text><text class="b" x="10" y="44">Посторов М. П.</text></g>
<g transform="translate(223,1627)"><rect class="m" x=".5" y=".5" width="117" height="50" rx="9"/><text class="b" x="10" y="13">Кривошеин А. С.</text><text class="r" x="10" y="23">R:647</text><text class="r" x="10" y="34">R:577</text><text class="s" x="65" y="30">3:0</text><rect class="d" x="93.5" y="16.5" width="23" height="16"/><text class="n" x="105" y="29">11</text><text x="10" y="44">Куликов К. А.</text></g>
<g transform="translate(223,1747)"><rect class="m" x=".5" y=".5" width="117" height="50" rx="9"/><text x="10" y="13">Якушев Д. В.</text><text class="r" x="10" y="23">R:507</text><text class="r" x="10" y="34">R:677</text><text class="s" x="65" y="30">0:3</text><rect class="d" x="93.5" y="16.5" width="23" height="16"/><text class="n" x="105" y="29">12</text><text class="b" x="10" y="44">Даминов Р. Д.</text></g>
<g transform="translate(398,1447)"><rect class="m" x=".5" y=".5" width="117" height="50" rx="9"/><text class="b" x="10" y="13">Ахметов Н. Р.</text><text class="r" x="10" y="23">R:747</text><text class="r" x="10" y="34">R:593</text><text class="s" x="65" y="30">3:0</text><rect class="d" x="93.5" y="16.5" width="23" height="16"/><text class="n" x="105" y="29">13</text><text x="10" y="44">Посторов М. П.</text></g>
<g transform="translate(398,1687)"><rect class="m" x=".5" y=".5" width="117" height="50" rx="9"/><text x="10" y="13">Кривошеин А. С.</text><text class="r" x="10" y="23">R:647</text><text class="r" x="10" y="34">R:677</text><text class="s" x="65" y="30">0:3</text><rect class="d" x="93.5" y="16.5" width="23" height="16"/><text class="n" x="105" y="29">14</text><text class="b" x="10" y="44">Даминов Р. Д.</text></g>
<g transform="translate(573,1567)"><rect class="m" x=".5" y=".5" width="117" height="50" rx="9"/><text x="10" y="13">Ахметов Н. Р.</text><text class="r" x="10" y="23">R:747</text><text class="r" x="10" y="34">R:677</text><text class="s" x="65" y="30">1:3</text><rect class="d" x="93.5" y="16.5" width="23" height="16"/><text class="n" x="105" y="29">15</text><text class="b" x="10" y="44">Даминов Р. Д.</text><rect class="k" fill="#fff" x="108.5" y="-2.5" width="21" height="18" rx="3"/><text class="q" x="119" y="13">2</text><rect class="k" fill="#fff" x="108.5" y="33.5" width="21" height="18" rx="3"/><text class="q" x="119" y="49">1</text></g>

<!-- Final-1 cyan -->
<g transform="translate(48,1872)"><rect class="m" x="-29.5" y="1.5" width="27" height="16" rx="3"/><rect class="m" x="-29.5" y="31.5" width="27" height="16" rx="3"/><path class="w" d="M-3 9.5H0M-3 39.5H0"/><text class="n" x="-16" y="14">-1</text><text class="n" x="-16" y="44">-2</text><rect class="m" x=".5" y=".5" width="117" height="50" rx="9"/><text x="10" y="13">Корольков Ф. В.</text><text class="r" x="10" y="23">R:439</text><text class="r" x="10" y="34">R:540</text><text class="s" x="65" y="30">2:3</text><rect class="d" x="93.5" y="16.5" width="23" height="16"/><text class="n" x="105" y="29">16</text><text class="b" x="10" y="44">Бойцов С. Н.</text></g>
<g transform="translate(48,1932)"><rect class="m" x="-29.5" y="1.5" width="27" height="16" rx="3"/><rect class="m" x="-29.5" y="31.5" width="27" height="16" rx="3"/><path class="w" d="M-3 9.5H0M-3 39.5H0"/><text class="n" x="-16" y="14">-3</text><text class="n" x="-16" y="44">-4</text><rect class="m" x=".5" y=".5" width="117" height="50" rx="9"/><text class="b" x="10" y="13">Марков О. Н.</text><text class="r" x="10" y="23">R:578</text><text class="r" x="10" y="34">R:405</text><text class="s" x="65" y="30">3:1</text><rect class="d" x="93.5" y="16.5" width="23" height="16"/><text class="n" x="105" y="29">17</text><text x="10" y="44">Старостин М. В.</text></g>
<g transform="translate(48,1992)"><rect class="m" x="-29.5" y="1.5" width="27" height="16" rx="3"/><rect class="m" x="-29.5" y="31.5" width="27" height="16" rx="3"/><path class="w" d="M-3 9.5H0M-3 39.5H0"/><text class="n" x="-16" y="14">-5</text><text class="n" x="-16" y="44">-6</text><rect class="m" x=".5" y=".5" width="117" height="50" rx="9"/><text class="b" x="10" y="13">Ревидов В. В.</text><text class="r" x="10" y="23">R:478</text><text class="r" x="10" y="34">R:487</text><text class="s" x="65" y="30">3:2</text><rect class="d" x="93.5" y="16.5" width="23" height="16"/><text class="n" x="105" y="29">18</text><text x="10" y="44">Шмаков О. Г.</text></g>
<g transform="translate(48,2052)"><rect class="m" x="-29.5" y="1.5" width="27" height="16" rx="3"/><rect class="m" x="-29.5" y="31.5" width="27" height="16" rx="3"/><path class="w" d="M-3 9.5H0M-3 39.5H0"/><text class="n" x="-16" y="14">-7</text><text class="n" x="-16" y="44">-8</text><rect class="m" x=".5" y=".5" width="117" height="50" rx="9"/><text class="b" x="10" y="13">Украинцев А. В.</text><text class="r" x="10" y="23">R:514</text><text class="r" x="10" y="34">R:389</text><text class="s" x="65" y="30">3:0</text><rect class="d" x="93.5" y="16.5" width="23" height="16"/><text class="n" x="105" y="29">19</text><text x="10" y="44">Помазан А. Н.</text></g>
<g transform="translate(223,1872)"><rect class="m" x="-29.5" y="1.5" width="27" height="16" rx="3"/><path class="w" d="M-3 9.5H0"/><text class="n" x="-16" y="14">-12</text><rect class="m" x=".5" y=".5" width="117" height="50" rx="9"/><text class="b" x="10" y="13">Якушев Д. В.</text><text class="r" x="10" y="23">R:507</text><text class="r" x="10" y="34">R:540</text><text class="s" x="65" y="30">3:1</text><rect class="d" x="93.5" y="16.5" width="23" height="16"/><text class="n" x="105" y="29">20</text><text x="10" y="44">Бойцов С. Н.</text></g>
<g transform="translate(223,1932)"><rect class="m" x="-29.5" y="1.5" width="27" height="16" rx="3"/><path class="w" d="M-3 9.5H0"/><text class="n" x="-16" y="14">-11</text><rect class="m" x=".5" y=".5" width="117" height="50" rx="9"/><text x="10" y="13">Куликов К. А.</text><text class="r" x="10" y="23">R:577</text><text class="r" x="10" y="34">R:578</text><text class="s" x="65" y="30">1:3</text><rect class="d" x="93.5" y="16.5" width="23" height="16"/><text class="n" x="105" y="29">21</text><text class="b" x="10" y="44">Марков О. Н.</text></g>
<g transform="translate(223,1992)"><rect class="m" x="-29.5" y="1.5" width="27" height="16" rx="3"/><path class="w" d="M-3 9.5H0"/><text class="n" x="-16" y="14">-10</text><rect class="m" x=".5" y=".5" width="117" height="50" rx="9"/><text x="10" y="13">Кормушкин Н. В.</text><text class="r" x="10" y="23">R:501</text><text class="r" x="10" y="34">R:478</text><text class="s" x="65" y="30">1:3</text><rect class="d" x="93.5" y="16.5" width="23" height="16"/><text class="n" x="105" y="29">22</text><text class="b" x="10" y="44">Ревидов В. В.</text></g>
<g transform="translate(223,2052)"><rect class="m" x="-29.5" y="1.5" width="27" height="16" rx="3"/><path class="w" d="M-3 9.5H0"/><text class="n" x="-16" y="14">-9</text><rect class="m" x=".5" y=".5" width="117" height="50" rx="9"/><text x="10" y="13">Латышев В. П.</text><text class="r" x="10" y="23">R:538</text><text class="r" x="10" y="34">R:514</text><text class="s" x="65" y="30">Тех</text><rect class="d" x="93.5" y="16.5" width="23" height="16"/><text class="n" x="105" y="29">23</text><text class="b" x="10" y="44">Украинцев А. В.</text></g>
<g transform="translate(398,1902)"><rect class="m" x=".5" y=".5" width="117" height="50" rx="9"/><text x="10" y="13">Якушев Д. В.</text><text class="r" x="10" y="23">R:507</text><text class="r" x="10" y="34">R:578</text><text class="s" x="65" y="30">0:3</text><rect class="d" x="93.5" y="16.5" width="23" height="16"/><text class="n" x="105" y="29">24</text><text class="b" x="10" y="44">Марков О. Н.</text></g>
<g transform="translate(398,2022)"><rect class="m" x=".5" y=".5" width="117" height="50" rx="9"/><text class="b" x="10" y="13">Ревидов В. В.</text><text class="r" x="10" y="23">R:478</text><text class="r" x="10" y="34">R:514</text><text class="s" x="65" y="30">3:0</text><rect class="d" x="93.5" y="16.5" width="23" height="16"/><text class="n" x="105" y="29">25</text><text x="10" y="44">Украинцев А. В.</text></g>
<g transform="translate(573,1902)"><rect class="m" x="-29.5" y="1.5" width="27" height="16" rx="3"/><path class="w" d="M-3 9.5H0"/><text class="n" x="-16" y="14">-13</text><rect class="m" x=".5" y=".5" width="117" height="50" rx="9"/><text class="b" x="10" y="13">Посторов М. П.</text><text class="r" x="10" y="23">R:593</text><text class="r" x="10" y="34">R:578</text><text class="s" x="65" y="30">3:2</text><rect class="d" x="93.5" y="16.5" width="23" height="16"/><text class="n" x="105" y="29">26</text><text x="10" y="44">Марков О. Н.</text></g>
<g transform="translate(573,2022)"><rect class="m" x="-29.5" y="1.5" width="27" height="16" rx="3"/><path class="w" d="M-3 9.5H0"/><text class="n" x="-16" y="14">-14</text><rect class="m" x=".5" y=".5" width="117" height="50" rx="9"/><text class="b" x="10" y="13">Кривошеин А. С.</text><text class="r" x="10" y="23">R:647</text><text class="r" x="10" y="34">R:478</text><text class="s" x="65" y="30">3:1</text><rect class="d" x="93.5" y="16.5" width="23" height="16"/><text class="n" x="105" y="29">27</text><text x="10" y="44">Ревидов В. В.</text></g>
<g transform="translate(748,1962)"><rect class="m" x=".5" y=".5" width="117" height="50" rx="9"/><text x="10" y="13">Посторов М. П.</text><text class="r" x="10" y="23">R:593</text><text class="r" x="10" y="34">R:647</text><text class="s" x="65" y="30">1:3</text><rect class="d" x="93.5" y="16.5" width="23" height="16"/><text class="n" x="105" y="29">28</text><text class="b" x="10" y="44" textLength="92">Кривошеин А. С.</text><rect class="k" fill="#e0ffff" x="107.5" y="-2.5" width="21" height="18" rx="3"/><text class="q" x="118" y="13">4</text><rect class="k" fill="#e0ffff" x="107.5" y="33.5" width="21" height="18" rx="3"/><text class="q" x="118" y="49">3</text></g>

<!-- Final-1 yellow -->
<g transform="translate(48,2147)"><rect class="m" x="-29.5" y="1.5" width="27" height="16" rx="3"/><rect class="m" x="-29.5" y="31.5" width="27" height="16" rx="3"/><path class="w" d="M-3 9.5H0M-3 39.5H0"/><text class="n" x="-16" y="14">-16</text><text class="n" x="-16" y="44">-17</text><rect class="m" x=".5" y=".5" width="117" height="50" rx="9"/><text class="b" x="10" y="13">Корольков Ф. В.</text><text class="r" x="10" y="23">R:439</text><text class="r" x="10" y="34">R:405</text><text class="s" x="65" y="30">3:2</text><rect class="d" x="93.5" y="16.5" width="23" height="16"/><text class="n" x="105" y="29">35</text><text x="10" y="44">Старостин М. В.</text></g>
<g transform="translate(48,2207)"><rect class="m" x="-29.5" y="1.5" width="27" height="16" rx="3"/><rect class="m" x="-29.5" y="31.5" width="27" height="16" rx="3"/><path class="w" d="M-3 9.5H0M-3 39.5H0"/><text class="n" x="-16" y="14">-18</text><text class="n" x="-16" y="44">-19</text><rect class="m" x=".5" y=".5" width="117" height="50" rx="9"/><text class="b" x="10" y="13">Шмаков О. Г.</text><text class="r" x="10" y="23">R:487</text><text class="r" x="10" y="34">R:389</text><text class="s" x="65" y="30">3:0</text><rect class="d" x="93.5" y="16.5" width="23" height="16"/><text class="n" x="105" y="29">36</text><text x="10" y="44">Помазан А. Н.</text></g>
<g transform="translate(223,2177)"><rect class="m" x=".5" y=".5" width="117" height="50" rx="9"/><text class="b" x="10" y="13">Корольков Ф. В.</text><text class="r" x="10" y="23">R:439</text><text class="r" x="10" y="34">R:487</text><text class="s" x="65" y="30">3:1</text><rect class="d" x="93.5" y="16.5" width="23" height="16"/><text class="n" x="105" y="29">37</text><text x="10" y="44">Шмаков О. Г.</text><rect class="k" fill="#ffffe0" x="108.5" y="-2.5" width="21" height="18" rx="3"/><text class="q" x="119" y="13">13</text><rect class="k" fill="#ffffe0" x="108.5" y="33.5" width="21" height="18" rx="3"/><text class="q" x="119" y="49">14</text></g>
<g transform="translate(398,2147)"><rect class="m" x="-29.5" y="1.5" width="27" height="16" rx="3"/><rect class="m" x="-29.5" y="31.5" width="27" height="16" rx="3"/><path class="w" d="M-3 9.5H0M-3 39.5H0"/><text class="n" x="-16" y="14">-20</text><text class="n" x="-16" y="44">-21</text><rect class="m" x=".5" y=".5" width="117" height="50" rx="9"/><text x="10" y="13">Бойцов С. Н.</text><text class="r" x="10" y="23">R:540</text><text class="r" x="10" y="34">R:577</text><text class="s" x="65" y="30">0:3</text><rect class="d" x="93.5" y="16.5" width="23" height="16"/><text class="n" x="105" y="29">31</text><text class="b" x="10" y="44">Куликов К. А.</text></g>
<g transform="translate(398,2207)"><rect class="m" x="-29.5" y="1.5" width="27" height="16" rx="3"/><rect class="m" x="-29.5" y="31.5" width="27" height="16" rx="3"/><path class="w" d="M-3 9.5H0M-3 39.5H0"/><text class="n" x="-16" y="14">-22</text><text class="n" x="-16" y="44">-23</text><rect class="m" x=".5" y=".5" width="117" height="50" rx="9"/><text class="b" x="10" y="13">Кормушкин Н. В.</text><text class="r" x="10" y="23">R:501</text><text class="r" x="10" y="34">R:538</text><text class="s" x="65" y="30">Тех</text><rect class="d" x="93.5" y="16.5" width="23" height="16"/><text class="n" x="105" y="29">32</text><text x="10" y="44">Латышев В. П.</text></g>
<g transform="translate(573,2177)"><rect class="m" x=".5" y=".5" width="117" height="50" rx="9"/><text class="b" x="10" y="13">Куликов К. А.</text><text class="r" x="10" y="23">R:577</text><text class="r" x="10" y="34">R:501</text><text class="s" x="65" y="30">3:0</text><rect class="d" x="93.5" y="16.5" width="23" height="16"/><text class="n" x="105" y="29">33</text><text x="10" y="44">Кормушкин Н. В.</text><rect class="k" fill="#ffffe0" x="108.5" y="-2.5" width="21" height="18" rx="3"/><text class="q" x="119" y="13">9</text><rect class="k" fill="#ffffe0" x="108.5" y="33.5" width="21" height="18" rx="3"/><text class="q" x="119" y="49">10</text></g>
<g transform="translate(748,2147)"><rect class="m" x="-29.5" y="1.5" width="27" height="16" rx="3"/><rect class="m" x="-29.5" y="31.5" width="27" height="16" rx="3"/><path class="w" d="M-3 9.5H0M-3 39.5H0"/><text class="n" x="-16" y="14">-26</text><text class="n" x="-16" y="44">-27</text><rect class="m" x=".5" y=".5" width="117" height="50" rx="9"/><text x="10" y="13">Марков О. Н.</text><text class="r" x="10" y="23">R:578</text><text class="r" x="10" y="34">R:478</text><text class="s" x="65" y="30">1:3</text><rect class="d" x="93.5" y="16.5" width="23" height="16"/><text class="n" x="105" y="29">29</text><text class="b" x="10" y="44">Ревидов В. В.</text><rect class="k" fill="#ffffe0" x="107.5" y="-2.5" width="21" height="18" rx="3"/><text class="q" x="118" y="13">6</text><rect class="k" fill="#ffffe0" x="107.5" y="33.5" width="21" height="18" rx="3"/><text class="q" x="118" y="49">5</text></g>
<g transform="translate(48,2302)"><rect class="m" x="-29.5" y="1.5" width="27" height="16" rx="3"/><rect class="m" x="-29.5" y="31.5" width="27" height="16" rx="3"/><path class="w" d="M-3 9.5H0M-3 39.5H0"/><text class="n" x="-16" y="14">-35</text><text class="n" x="-16" y="44">-36</text><rect class="m" x=".5" y=".5" width="117" height="50" rx="9"/><text x="10" y="13">Старостин М. В.</text><text class="r" x="10" y="23">R:405</text><text class="r" x="10" y="34">R:389</text><text class="s" x="65" y="30">0:3</text><rect class="d" x="93.5" y="16.5" width="23" height="16"/><text class="n" x="105" y="29">38</text><text class="b" x="10" y="44">Помазан А. Н.</text><rect class="k" fill="#ffffe0" x="108.5" y="-2.5" width="21" height="18" rx="3"/><text class="q" x="119" y="13">16</text><rect class="k" fill="#ffffe0" x="108.5" y="33.5" width="21" height="18" rx="3"/><text class="q" x="119" y="49">15</text></g>
<g transform="translate(223,2302)"><rect class="m" x="-29.5" y="1.5" width="27" height="16" rx="3"/><rect class="m" x="-29.5" y="31.5" width="27" height="16" rx="3"/><path class="w" d="M-3 9.5H0M-3 39.5H0"/><text class="n" x="-16" y="14">-31</text><text class="n" x="-16" y="44">-32</text><rect class="m" x=".5" y=".5" width="117" height="50" rx="9"/><text class="b" x="10" y="13">Бойцов С. Н.</text><text class="r" x="10" y="23">R:540</text><text class="r" x="10" y="34">R:538</text><text class="s" x="65" y="30">Тех</text><rect class="d" x="93.5" y="16.5" width="23" height="16"/><text class="n" x="105" y="29">34</text><text x="10" y="44">Латышев В. П.</text><rect class="k" fill="#ffffe0" x="108.5" y="-2.5" width="21" height="18" rx="3"/><text class="q" x="119" y="13">11</text><rect class="k" fill="#ffffe0" x="108.5" y="33.5" width="21" height="18" rx="3"/><text class="q" x="119" y="49">12</text></g>
<g transform="translate(398,2302)"><rect class="m" x="-29.5" y="1.5" width="27" height="16" rx="3"/><rect class="m" x="-29.5" y="31.5" width="27" height="16" rx="3"/><path class="w" d="M-3 9.5H0M-3 39.5H0"/><text class="n" x="-16" y="14">-24</text><text class="n" x="-16" y="44">-25</text><rect class="m" x=".5" y=".5" width="117" height="50" rx="9"/><text class="b" x="10" y="13">Якушев Д. В.</text><text class="r" x="10" y="23">R:507</text><text class="r" x="10" y="34">R:514</text><text class="s" x="65" y="30">Тех</text><rect class="d" x="93.5" y="16.5" width="23" height="16"/><text class="n" x="105" y="29">30</text><text x="10" y="44">Украинцев А. В.</text><rect class="k" fill="#ffffe0" x="108.5" y="-2.5" width="21" height="18" rx="3"/><text class="q" x="119" y="13">7</text><rect class="k" fill="#ffffe0" x="108.5" y="33.5" width="21" height="18" rx="3"/><text class="q" x="119" y="49">8</text></g>

<!-- Final-2 main -->
<g transform="translate(48,2432)"><rect class="m" x="-29.5" y="1.5" width="27" height="16" rx="3"/><rect class="m" x="-29.5" y="31.5" width="27" height="16" rx="3"/><path class="w" d="M-3 9.5H0M-3 39.5H0"/><text class="n" x="-16" y="14">9</text><text class="n" x="-16" y="44">8</text><rect class="m" x=".5" y=".5" width="117" height="50" rx="9"/><text x="10" y="13">Понеделко П. С.</text><text class="r" x="10" y="23">R:70</text><text class="r" x="10" y="34">R:120</text><text class="s" x="65" y="30">0:3</text><rect class="d" x="93.5" y="16.5" width="23" height="16"/><text class="n" x="105" y="29">1</text><text class="b" x="10" y="44">Чагай С. В.</text></g>
<g transform="translate(48,2492)"><rect class="m" x="-29.5" y="1.5" width="27" height="16" rx="3"/><rect class="m" x="-29.5" y="31.5" width="27" height="16" rx="3"/><path class="w" d="M-3 9.5H0M-3 39.5H0"/><text class="n" x="-16" y="14">5</text><text class="n" x="-16" y="44">12</text><rect class="m" x=".5" y=".5" width="117" height="50" rx="9"/><text class="b" x="10" y="13">Куренков Д. С.</text><text class="r" x="10" y="23">R:283</text><text class="r" x="10" y="34">R:81</text><text class="s" x="65" y="30">3:0</text><rect class="d" x="93.5" y="16.5" width="23" height="16"/><text class="n" x="105" y="29">2</text><text x="10" y="44">Духанина М. В.</text></g>
<g transform="translate(223,2432)"><rect class="m" x="-29.5" y="1.5" width="27" height="16" rx="3"/><path class="w" d="M-3 9.5H0"/><text class="n" x="-16" y="14">1</text><rect class="m" x=".5" y=".5" width="117" height="50" rx="9"/><text class="b" x="10" y="13">Марченко В. В.</text><text class="r" x="10" y="23">R:388</text><text class="r" x="10" y="34">R:120</text><text class="s" x="65" y="30">3:0</text><rect class="d" x="93.5" y="16.5" width="23" height="16"/><text class="n" x="105" y="29">3</text><text x="10" y="44">Чагай С. В.</text></g>
<g transform="translate(223,2492)"><rect class="m" x="-29.5" y="31.5" width="27" height="16" rx="3"/><path class="w" d="M-3 39.5H0"/><text class="n" x="-16" y="44">4</text><rect class="m" x=".5" y=".5" width="117" height="50" rx="9"/><text x="10" y="13">Куренков Д. С.</text><text class="r" x="10" y="23">R:283</text><text class="r" x="10" y="34">R:298</text><text class="s" x="65" y="30">1:3</text><rect class="d" x="93.5" y="16.5" width="23" height="16"/><text class="n" x="105" y="29">4</text><text class="b" x="10" y="44">Шантина Т. С.</text></g>
<g transform="translate(223,2552)"><rect class="m" x="-29.5" y="1.5" width="27" height="16" rx="3"/><rect class="m" x="-29.5" y="31.5" width="27" height="16" rx="3"/><path class="w" d="M-3 9.5H0M-3 39.5H0"/><text class="n" x="-16" y="14">3</text><text class="n" x="-16" y="44">6</text><rect class="m" x=".5" y=".5" width="117" height="50" rx="9"/><text class="b" x="10" y="13">Килин С. А.</text><text class="r" x="10" y="23">R:310</text><text class="r" x="10" y="34">R:280</text><text class="s" x="65" y="30">3:2</text><rect class="d" x="93.5" y="16.5" width="23" height="16"/><text class="n" x="105" y="29">5</text><text x="10" y="44">Сиротюк Ю. В.</text></g>
<g transform="translate(223,2612)"><rect class="m" x="-29.5" y="1.5" width="27" height="16" rx="3"/><rect class="m" x="-29.5" y="31.5" width="27" height="16" rx="3"/><path class="w" d="M-3 9.5H0M-3 39.5H0"/><text class="n" x="-16" y="14">7</text><text class="n" x="-16" y="44">2</text><rect class="m" x=".5" y=".5" width="117" height="50" rx="9"/><text x="10" y="13">Карнаев С. Д.</text><text class="r" x="10" y="23">R:147</text><text class="r" x="10" y="34">R:379</text><text class="s" x="65" y="30">0:3</text><rect class="d" x="93.5" y="16.5" width="23" height="16"/><text class="n" x="105" y="29">6</text><text class="b" x="10" y="44">Клименко В. В.</text></g>
<g transform="translate(398,2462)"><rect class="m" x=".5" y=".5" width="117" height="50" rx="9"/><text x="10" y="13">Марченко В. В.</text><text class="r" x="10" y="23">R:388</text><text class="r" x="10" y="34">R:298</text><text class="s" x="65" y="30">0:3</text><rect class="d" x="93.5" y="16.5" width="23" height="16"/><text class="n" x="105" y="29">7</text><text class="b" x="10" y="44">Шантина Т. С.</text></g>
<g transform="translate(398,2582)"><rect class="m" x=".5" y=".5" width="117" height="50" rx="9"/><text x="10" y="13">Килин С. А.</text><text class="r" x="10" y="23">R:310</text><text class="r" x="10" y="34">R:379</text><text class="s" x="65" y="30">2:3</text><rect class="d" x="93.5" y="16.5" width="23" height="16"/><text class="n" x="105" y="29">8</text><text class="b" x="10" y="44">Клименко В. В.</text></g>
<g transform="translate(573,2522)"><rect class="m" x=".5" y=".5" width="117" height="50" rx="9"/><text class="b" x="10" y="13">Шантина Т. С.</text><text class="r" x="10" y="23">R:298</text><text class="r" x="10" y="34">R:379</text><text class="s" x="65" y="30">3:1</text><rect class="d" x="93.5" y="16.5" width="23" height="16"/><text class="n" x="105" y="29">9</text><text x="10" y="44">Клименко В. В.</text><rect class="k" fill="#fff" x="108.5" y="-2.5" width="21" height="18" rx="3"/><text class="q" x="119" y="13">1</text><rect class="k" fill="#fff" x="108.5" y="33.5" width="21" height="18" rx="3"/><text class="q" x="119" y="49">2</text></g>

<!-- Final-2 cyan -->
<g transform="translate(48,2707)"><rect class="m" x="-29.5" y="1.5" width="27" height="16" rx="3"/><rect class="m" x="-29.5" y="31.5" width="27" height="16" rx="3"/><path class="w" d="M-3 9.5H0M-3 39.5H0"/><text class="n" x="-16" y="14">-6</text><text class="n" x="-16" y="44">-1</text><rect class="m" x=".5" y=".5" width="117" height="50" rx="9"/><text x="10" y="13">Карнаев С. Д.</text><text class="r" x="10" y="23">R:147</text><text class="r" x="10" y="34">R:70</text><text class="s" x="65" y="30">1:3</text><rect class="d" x="93.5" y="16.5" width="23" height="16"/><text class="n" x="105" y="29">10</text><text class="b" x="10" y="44">Понеделко П. С.</text></g>
<g transform="translate(48,2767)"><rect class="m" x="-29.5" y="1.5" width="27" height="16" rx="3"/><rect class="m" x="-29.5" y="31.5" width="27" height="16" rx="3"/><path class="w" d="M-3 9.5H0M-3 39.5H0"/><text class="n" x="-16" y="14">-5</text><text class="n" x="-16" y="44">-2</text><rect class="m" x=".5" y=".5" width="117" height="50" rx="9"/><text class="b" x="10" y="13">Сиротюк Ю. В.</text><text class="r" x="10" y="23">R:280</text><text class="r" x="10" y="34">R:81</text><text class="s" x="65" y="30">3:1</text><rect class="d" x="93.5" y="16.5" width="23" height="16"/><text class="n" x="105" y="29">11</text><text x="10" y="44">Духанина М. В.</text></g>
<g transform="translate(223,2737)"><rect class="m" x=".5" y=".5" width="117" height="50" rx="9"/><text x="10" y="13">Понеделко П. С.</text><text class="r" x="10" y="23">R:70</text><text class="r" x="10" y="34">R:280</text><text class="s" x="65" y="30">0:3</text><rect class="d" x="93.5" y="16.5" width="23" height="16"/><text class="n" x="105" y="29">12</text><text class="b" x="10" y="44">Сиротюк Ю. В.</text></g>
<g transform="translate(223,2797)"><rect class="m" x="-29.5" y="1.5" width="27" height="16" rx="3"/><rect class="m" x="-29.5" y="31.5" width="27" height="16" rx="3"/><path class="w" d="M-3 9.5H0M-3 39.5H0"/><text class="n" x="-16" y="14">-4</text><text class="n" x="-16" y="44">-3</text><rect class="m" x=".5" y=".5" width="117" height="50" rx="9"/><text class="b" x="10" y="13">Куренков Д. С.</text><text class="r" x="10" y="23">R:283</text><text class="r" x="10" y="34">R:120</text><text class="s" x="65" y="30">3:0</text><rect class="d" x="93.5" y="16.5" width="23" height="16"/><text class="n" x="105" y="29">13</text><text x="10" y="44">Чагай С. В.</text></g>
<g transform="translate(398,2737)"><rect class="m" x="-29.5" y="1.5" width="27" height="16" rx="3"/><path class="w" d="M-3 9.5H0"/><text class="n" x="-16" y="14">-7</text><rect class="m" x=".5" y=".5" width="117" height="50" rx="9"/><text class="b" x="10" y="13">Марченко В. В.</text><text class="r" x="10" y="23">R:388</text><text class="r" x="10" y="34">R:280</text><text class="s" x="65" y="30">3:0</text><rect class="d" x="93.5" y="16.5" width="23" height="16"/><text class="n" x="105" y="29">14</text><text x="10" y="44">Сиротюк Ю. В.</text></g>
<g transform="translate(398,2797)"><rect class="m" x="-29.5" y="1.5" width="27" height="16" rx="3"/><path class="w" d="M-3 9.5H0"/><text class="n" x="-16" y="14">-8</text><rect class="m" x=".5" y=".5" width="117" height="50" rx="9"/><text x="10" y="13">Килин С. А.</text><text class="r" x="10" y="23">R:310</text><text class="r" x="10" y="34">R:283</text><text class="s" x="65" y="30">0:3</text><rect class="d" x="93.5" y="16.5" width="23" height="16"/><text class="n" x="105" y="29">15</text><text class="b" x="10" y="44">Куренков Д. С.</text></g>
<g transform="translate(573,2767)"><rect class="m" x=".5" y=".5" width="117" height="50" rx="9"/><text class="b" x="10" y="13">Марченко В. В.</text><text class="r" x="10" y="23">R:388</text><text class="r" x="10" y="34">R:283</text><text class="s" x="65" y="30">3:2</text><rect class="d" x="93.5" y="16.5" width="23" height="16"/><text class="n" x="105" y="29">16</text><text x="10" y="44">Куренков Д. С.</text><rect class="k" fill="#e0ffff" x="108.5" y="-2.5" width="21" height="18" rx="3"/><text class="q" x="119" y="13">3</text><rect class="k" fill="#e0ffff" x="108.5" y="33.5" width="21" height="18" rx="3"/><text class="q" x="119" y="49">4</text></g>

<!-- Final-2 yellow -->
<g transform="translate(48,2892)"><rect class="m" x="-29.5" y="1.5" width="27" height="16" rx="3"/><rect class="m" x="-29.5" y="31.5" width="27" height="16" rx="3"/><path class="w" d="M-3 9.5H0M-3 39.5H0"/><text class="n" x="-16" y="14">-10</text><text class="n" x="-16" y="44">-11</text><rect class="m" x=".5" y=".5" width="117" height="50" rx="9"/><text class="b" x="10" y="13">Карнаев С. Д.</text><text class="r" x="10" y="23">R:147</text><text class="r" x="10" y="34">R:81</text><text class="s" x="65" y="30">3:0</text><rect class="d" x="93.5" y="16.5" width="23" height="16"/><text class="n" x="105" y="29">19</text><text x="10" y="44">Духанина М. В.</text><rect class="k" fill="#ffffe0" x="108.5" y="-2.5" width="21" height="18" rx="3"/><text class="q" x="119" y="13">9</text><rect class="k" fill="#ffffe0" x="108.5" y="33.5" width="21" height="18" rx="3"/><text class="q" x="119" y="49">11</text></g>
<g transform="translate(223,2892)"><rect class="m" x="-29.5" y="1.5" width="27" height="16" rx="3"/><rect class="m" x="-29.5" y="31.5" width="27" height="16" rx="3"/><path class="w" d="M-3 9.5H0M-3 39.5H0"/><text class="n" x="-16" y="14">-12</text><text class="n" x="-16" y="44">-13</text><rect class="m" x=".5" y=".5" width="117" height="50" rx="9"/><text x="10" y="13">Понеделко П. С.</text><text class="r" x="10" y="23">R:70</text><text class="r" x="10" y="34">R:120</text><text class="s" x="65" y="30">2:3</text><rect class="d" x="93.5" y="16.5" width="23" height="16"/><text class="n" x="105" y="29">18</text><text class="b" x="10" y="44">Чагай С. В.</text><rect class="k" fill="#ffffe0" x="108.5" y="-2.5" width="21" height="18" rx="3"/><text class="q" x="119" y="13">8</text><rect class="k" fill="#ffffe0" x="108.5" y="33.5" width="21" height="18" rx="3"/><text class="q" x="119" y="49">7</text></g>
<g transform="translate(398,2892)"><rect class="m" x="-29.5" y="1.5" width="27" height="16" rx="3"/><rect class="m" x="-29.5" y="31.5" width="27" height="16" rx="3"/><path class="w" d="M-3 9.5H0M-3 39.5H0"/><text class="n" x="-16" y="14">-14</text><text class="n" x="-16" y="44">-15</text><rect class="m" x=".5" y=".5" width="117" height="50" rx="9"/><text x="10" y="13">Сиротюк Ю. В.</text><text class="r" x="10" y="23">R:280</text><text class="r" x="10" y="34">R:310</text><text class="s" x="65" y="30">0:3</text><rect class="d" x="93.5" y="16.5" width="23" height="16"/><text class="n" x="105" y="29">17</text><text class="b" x="10" y="44">Килин С. А.</text><rect class="k" fill="#ffffe0" x="108.5" y="-2.5" width="21" height="18" rx="3"/><text class="q" x="119" y="13">6</text><rect class="k" fill="#ffffe0" x="108.5" y="33.5" width="21" height="18" rx="3"/><text class="q" x="119" y="49">5</text></g>
</svg>
</body></html>
